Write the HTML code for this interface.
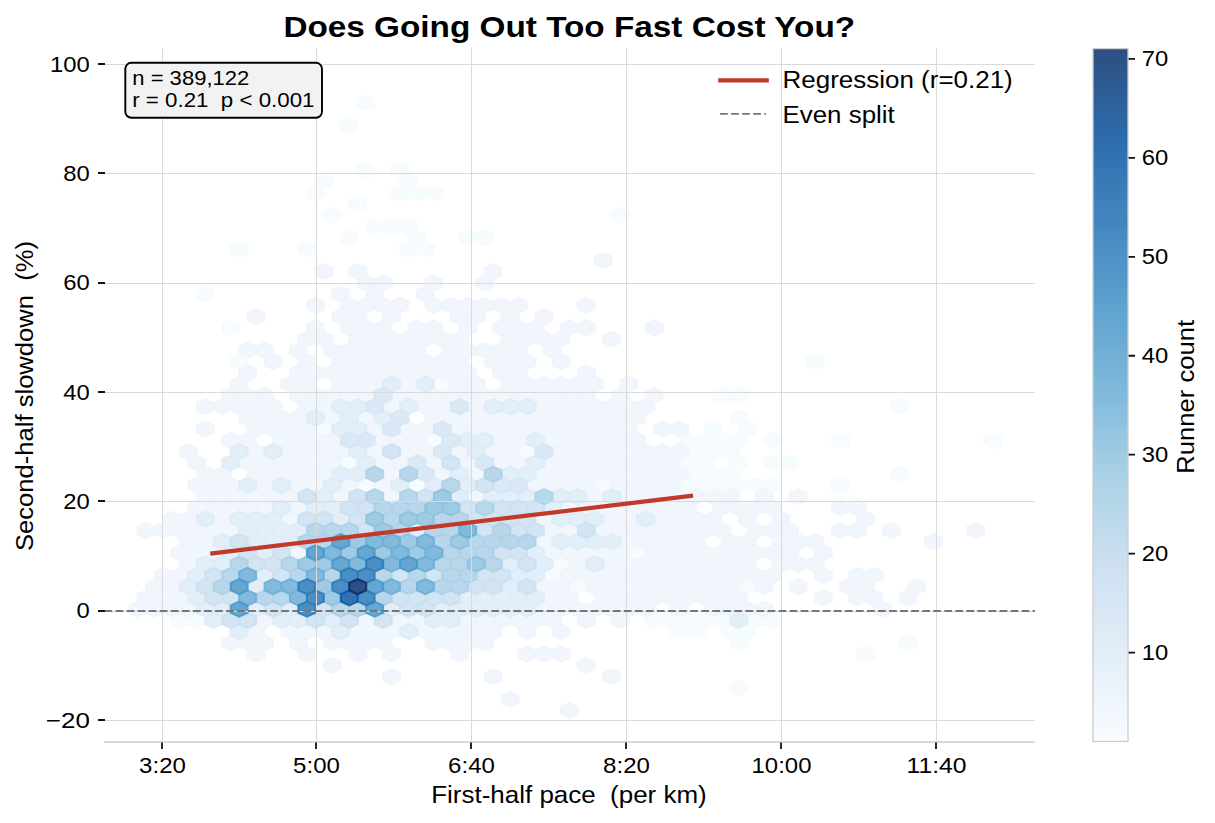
<!DOCTYPE html><html><head><meta charset="utf-8"><style>html,body{margin:0;padding:0;background:#fff;width:1215px;height:823px;overflow:hidden}svg{display:block}</style></head><body><svg width="1215" height="823" viewBox="0 0 1215 823" font-family="Liberation Sans, sans-serif"><rect width="1215" height="823" fill="#fff"/><g fill-opacity="0.85" stroke-opacity="0.85" stroke-width="2.0"><path d="M247.6,357.9L247.6,365.4L239.2,369.1L230.7,365.4L230.7,357.9L239.2,354.1ZM332.3,425.4L332.3,432.9L323.8,436.6L315.4,432.9L315.4,425.4L323.8,421.6ZM247.6,245.4L247.6,252.9L239.2,256.6L230.7,252.9L230.7,245.4L239.2,241.6ZM315.4,245.4L315.4,252.9L306.9,256.6L298.4,252.9L298.4,245.4L306.9,241.6ZM213.8,290.4L213.8,297.9L205.3,301.6L196.8,297.9L196.8,290.4L205.3,286.6ZM239.2,324.1L239.2,331.6L230.7,335.4L222.2,331.6L222.2,324.1L230.7,320.4ZM332.3,177.9L332.3,185.4L323.8,189.1L315.4,185.4L315.4,177.9L323.8,174.1ZM323.8,189.1L323.8,196.6L315.4,200.4L306.9,196.6L306.9,189.1L315.4,185.4ZM340.8,211.6L340.8,219.1L332.3,222.9L323.8,219.1L323.8,211.6L332.3,207.9ZM188.3,616.6L188.3,624.1L179.9,627.9L171.4,624.1L171.4,616.6L179.9,612.9ZM205.3,616.6L205.3,624.1L196.8,627.9L188.3,624.1L188.3,616.6L196.8,612.9ZM450.8,380.4L450.8,387.9L442.4,391.6L433.9,387.9L433.9,380.4L442.4,376.6ZM442.4,436.6L442.4,444.1L433.9,447.9L425.4,444.1L425.4,436.6L433.9,432.9ZM535.5,447.9L535.5,455.4L527.0,459.1L518.6,455.4L518.6,447.9L527.0,444.1ZM357.7,459.1L357.7,466.6L349.2,470.4L340.8,466.6L340.8,459.1L349.2,455.4ZM374.6,481.6L374.6,489.1L366.2,492.9L357.7,489.1L357.7,481.6L366.2,477.9ZM425.4,481.6L425.4,489.1L417.0,492.9L408.5,489.1L408.5,481.6L417.0,477.9ZM383.1,222.9L383.1,230.4L374.6,234.1L366.2,230.4L366.2,222.9L374.6,219.1ZM400.0,222.9L400.0,230.4L391.6,234.1L383.1,230.4L383.1,222.9L391.6,219.1ZM417.0,222.9L417.0,230.4L408.5,234.1L400.0,230.4L400.0,222.9L408.5,219.1ZM357.7,234.1L357.7,241.6L349.2,245.4L340.8,241.6L340.8,234.1L349.2,230.4ZM425.4,234.1L425.4,241.6L417.0,245.4L408.5,241.6L408.5,234.1L417.0,230.4ZM476.2,234.1L476.2,241.6L467.8,245.4L459.3,241.6L459.3,234.1L467.8,230.4ZM493.2,234.1L493.2,241.6L484.7,245.4L476.2,241.6L476.2,234.1L484.7,230.4ZM417.0,245.4L417.0,252.9L408.5,256.6L400.0,252.9L400.0,245.4L408.5,241.6ZM433.9,245.4L433.9,252.9L425.4,256.6L417.0,252.9L417.0,245.4L425.4,241.6ZM374.6,99.1L374.6,106.6L366.2,110.4L357.7,106.6L357.7,99.1L366.2,95.4ZM357.7,121.6L357.7,129.1L349.2,132.9L340.8,129.1L340.8,121.6L349.2,117.9ZM374.6,166.6L374.6,174.1L366.2,177.9L357.7,174.1L357.7,166.6L366.2,162.9ZM408.5,166.6L408.5,174.1L400.0,177.9L391.6,174.1L391.6,166.6L400.0,162.9ZM417.0,177.9L417.0,185.4L408.5,189.1L400.0,185.4L400.0,177.9L408.5,174.1ZM408.5,189.1L408.5,196.6L400.0,200.4L391.6,196.6L391.6,189.1L400.0,185.4ZM425.4,189.1L425.4,196.6L417.0,200.4L408.5,196.6L408.5,189.1L417.0,185.4ZM442.4,189.1L442.4,196.6L433.9,200.4L425.4,196.6L425.4,189.1L433.9,185.4ZM366.2,200.4L366.2,207.9L357.7,211.6L349.2,207.9L349.2,200.4L357.7,196.6ZM730.3,391.6L730.3,399.1L721.8,402.9L713.3,399.1L713.3,391.6L721.8,387.9ZM747.2,391.6L747.2,399.1L738.7,402.9L730.3,399.1L730.3,391.6L738.7,387.9ZM747.2,414.1L747.2,421.6L738.7,425.4L730.3,421.6L730.3,414.1L738.7,410.4ZM721.8,425.4L721.8,432.9L713.3,436.6L704.9,432.9L704.9,425.4L713.3,421.6ZM696.4,436.6L696.4,444.1L687.9,447.9L679.5,444.1L679.5,436.6L687.9,432.9ZM713.3,436.6L713.3,444.1L704.9,447.9L696.4,444.1L696.4,436.6L704.9,432.9ZM730.3,436.6L730.3,444.1L721.8,447.9L713.3,444.1L713.3,436.6L721.8,432.9ZM747.2,436.6L747.2,444.1L738.7,447.9L730.3,444.1L730.3,436.6L738.7,432.9ZM704.9,447.9L704.9,455.4L696.4,459.1L687.9,455.4L687.9,447.9L696.4,444.1ZM721.8,447.9L721.8,455.4L713.3,459.1L704.9,455.4L704.9,447.9L713.3,444.1ZM738.7,447.9L738.7,455.4L730.3,459.1L721.8,455.4L721.8,447.9L730.3,444.1ZM696.4,459.1L696.4,466.6L687.9,470.4L679.5,466.6L679.5,459.1L687.9,455.4ZM713.3,459.1L713.3,466.6L704.9,470.4L696.4,466.6L696.4,459.1L704.9,455.4ZM747.2,459.1L747.2,466.6L738.7,470.4L730.3,466.6L730.3,459.1L738.7,455.4ZM704.9,470.4L704.9,477.9L696.4,481.6L687.9,477.9L687.9,470.4L696.4,466.6ZM721.8,470.4L721.8,477.9L713.3,481.6L704.9,477.9L704.9,470.4L713.3,466.6ZM738.7,470.4L738.7,477.9L730.3,481.6L721.8,477.9L721.8,470.4L730.3,466.6ZM611.7,481.6L611.7,489.1L603.3,492.9L594.8,489.1L594.8,481.6L603.3,477.9ZM696.4,481.6L696.4,489.1L687.9,492.9L679.5,489.1L679.5,481.6L687.9,477.9ZM713.3,481.6L713.3,489.1L704.9,492.9L696.4,489.1L696.4,481.6L704.9,477.9ZM730.3,481.6L730.3,489.1L721.8,492.9L713.3,489.1L713.3,481.6L721.8,477.9ZM747.2,481.6L747.2,489.1L738.7,492.9L730.3,489.1L730.3,481.6L738.7,477.9ZM628.7,211.6L628.7,219.1L620.2,222.9L611.7,219.1L611.7,211.6L620.2,207.9ZM645.6,549.1L645.6,556.6L637.1,560.4L628.7,556.6L628.7,549.1L637.1,545.4ZM569.4,560.4L569.4,567.9L560.9,571.6L552.5,567.9L552.5,560.4L560.9,556.6ZM560.9,571.6L560.9,579.1L552.5,582.9L544.0,579.1L544.0,571.6L552.5,567.9ZM586.3,582.9L586.3,590.4L577.9,594.1L569.4,590.4L569.4,582.9L577.9,579.1ZM662.5,616.6L662.5,624.1L654.1,627.9L645.6,624.1L645.6,616.6L654.1,612.9ZM679.5,616.6L679.5,624.1L671.0,627.9L662.5,624.1L662.5,616.6L671.0,612.9ZM696.4,616.6L696.4,624.1L687.9,627.9L679.5,624.1L679.5,616.6L687.9,612.9ZM713.3,616.6L713.3,624.1L704.9,627.9L696.4,624.1L696.4,616.6L704.9,612.9ZM730.3,616.6L730.3,624.1L721.8,627.9L713.3,624.1L713.3,616.6L721.8,612.9ZM687.9,627.9L687.9,635.4L679.5,639.1L671.0,635.4L671.0,627.9L679.5,624.1ZM704.9,627.9L704.9,635.4L696.4,639.1L687.9,635.4L687.9,627.9L696.4,624.1ZM738.7,627.9L738.7,635.4L730.3,639.1L721.8,635.4L721.8,627.9L730.3,624.1ZM747.2,639.1L747.2,646.6L738.7,650.4L730.3,646.6L730.3,639.1L738.7,635.4ZM747.2,684.1L747.2,691.6L738.7,695.4L730.3,691.6L730.3,684.1L738.7,680.4ZM823.4,357.9L823.4,365.4L814.9,369.1L806.5,365.4L806.5,357.9L814.9,354.1ZM908.1,402.9L908.1,410.4L899.6,414.1L891.2,410.4L891.2,402.9L899.6,399.1ZM755.7,425.4L755.7,432.9L747.2,436.6L738.7,432.9L738.7,425.4L747.2,421.6ZM781.1,436.6L781.1,444.1L772.6,447.9L764.1,444.1L764.1,436.6L772.6,432.9ZM848.8,436.6L848.8,444.1L840.3,447.9L831.9,444.1L831.9,436.6L840.3,432.9ZM781.1,459.1L781.1,466.6L772.6,470.4L764.1,466.6L764.1,459.1L772.6,455.4ZM798.0,459.1L798.0,466.6L789.5,470.4L781.1,466.6L781.1,459.1L789.5,455.4ZM908.1,470.4L908.1,477.9L899.6,481.6L891.2,477.9L891.2,470.4L899.6,466.6ZM764.1,481.6L764.1,489.1L755.7,492.9L747.2,489.1L747.2,481.6L755.7,477.9ZM781.1,481.6L781.1,489.1L772.6,492.9L764.1,489.1L764.1,481.6L772.6,477.9ZM848.8,481.6L848.8,489.1L840.3,492.9L831.9,489.1L831.9,481.6L840.3,477.9ZM764.1,616.6L764.1,624.1L755.7,627.9L747.2,624.1L747.2,616.6L755.7,612.9ZM781.1,616.6L781.1,624.1L772.6,627.9L764.1,624.1L764.1,616.6L772.6,612.9ZM755.7,627.9L755.7,635.4L747.2,639.1L738.7,635.4L738.7,627.9L747.2,624.1ZM916.6,639.1L916.6,646.6L908.1,650.4L899.6,646.6L899.6,639.1L908.1,635.4ZM874.2,650.4L874.2,657.9L865.8,661.6L857.3,657.9L857.3,650.4L865.8,646.6ZM1001.2,436.6L1001.2,444.1L992.8,447.9L984.3,444.1L984.3,436.6L992.8,432.9ZM755.7,582.9L755.7,590.4L747.2,594.1L738.7,590.4L738.7,582.9L747.2,579.1Z" fill="#f5fafe" stroke="#f5fafe"/><path d="M281.5,357.9L281.5,365.4L273.0,369.1L264.6,365.4L264.6,357.9L273.0,354.1ZM315.4,357.9L315.4,365.4L306.9,369.1L298.4,365.4L298.4,357.9L306.9,354.1ZM256.1,369.1L256.1,376.6L247.6,380.4L239.2,376.6L239.2,369.1L247.6,365.4ZM306.9,369.1L306.9,376.6L298.4,380.4L290.0,376.6L290.0,369.1L298.4,365.4ZM323.8,369.1L323.8,376.6L315.4,380.4L306.9,376.6L306.9,369.1L315.4,365.4ZM340.8,369.1L340.8,376.6L332.3,380.4L323.8,376.6L323.8,369.1L332.3,365.4ZM247.6,380.4L247.6,387.9L239.2,391.6L230.7,387.9L230.7,380.4L239.2,376.6ZM298.4,380.4L298.4,387.9L290.0,391.6L281.5,387.9L281.5,380.4L290.0,376.6ZM315.4,380.4L315.4,387.9L306.9,391.6L298.4,387.9L298.4,380.4L306.9,376.6ZM239.2,391.6L239.2,399.1L230.7,402.9L222.2,399.1L222.2,391.6L230.7,387.9ZM256.1,391.6L256.1,399.1L247.6,402.9L239.2,399.1L239.2,391.6L247.6,387.9ZM273.0,391.6L273.0,399.1L264.6,402.9L256.1,399.1L256.1,391.6L264.6,387.9ZM306.9,391.6L306.9,399.1L298.4,402.9L290.0,399.1L290.0,391.6L298.4,387.9ZM323.8,391.6L323.8,399.1L315.4,402.9L306.9,399.1L306.9,391.6L315.4,387.9ZM340.8,391.6L340.8,399.1L332.3,402.9L323.8,399.1L323.8,391.6L332.3,387.9ZM213.8,402.9L213.8,410.4L205.3,414.1L196.8,410.4L196.8,402.9L205.3,399.1ZM230.7,402.9L230.7,410.4L222.2,414.1L213.8,410.4L213.8,402.9L222.2,399.1ZM247.6,402.9L247.6,410.4L239.2,414.1L230.7,410.4L230.7,402.9L239.2,399.1ZM264.6,402.9L264.6,410.4L256.1,414.1L247.6,410.4L247.6,402.9L256.1,399.1ZM281.5,402.9L281.5,410.4L273.0,414.1L264.6,410.4L264.6,402.9L273.0,399.1ZM315.4,402.9L315.4,410.4L306.9,414.1L298.4,410.4L298.4,402.9L306.9,399.1ZM332.3,402.9L332.3,410.4L323.8,414.1L315.4,410.4L315.4,402.9L323.8,399.1ZM256.1,414.1L256.1,421.6L247.6,425.4L239.2,421.6L239.2,414.1L247.6,410.4ZM273.0,414.1L273.0,421.6L264.6,425.4L256.1,421.6L256.1,414.1L264.6,410.4ZM290.0,414.1L290.0,421.6L281.5,425.4L273.0,421.6L273.0,414.1L281.5,410.4ZM306.9,414.1L306.9,421.6L298.4,425.4L290.0,421.6L290.0,414.1L298.4,410.4ZM340.8,414.1L340.8,421.6L332.3,425.4L323.8,421.6L323.8,414.1L332.3,410.4ZM213.8,425.4L213.8,432.9L205.3,436.6L196.8,432.9L196.8,425.4L205.3,421.6ZM264.6,425.4L264.6,432.9L256.1,436.6L247.6,432.9L247.6,425.4L256.1,421.6ZM281.5,425.4L281.5,432.9L273.0,436.6L264.6,432.9L264.6,425.4L273.0,421.6ZM298.4,425.4L298.4,432.9L290.0,436.6L281.5,432.9L281.5,425.4L290.0,421.6ZM315.4,425.4L315.4,432.9L306.9,436.6L298.4,432.9L298.4,425.4L306.9,421.6ZM239.2,436.6L239.2,444.1L230.7,447.9L222.2,444.1L222.2,436.6L230.7,432.9ZM256.1,436.6L256.1,444.1L247.6,447.9L239.2,444.1L239.2,436.6L247.6,432.9ZM290.0,436.6L290.0,444.1L281.5,447.9L273.0,444.1L273.0,436.6L281.5,432.9ZM306.9,436.6L306.9,444.1L298.4,447.9L290.0,444.1L290.0,436.6L298.4,432.9ZM323.8,436.6L323.8,444.1L315.4,447.9L306.9,444.1L306.9,436.6L315.4,432.9ZM340.8,436.6L340.8,444.1L332.3,447.9L323.8,444.1L323.8,436.6L332.3,432.9ZM196.8,447.9L196.8,455.4L188.3,459.1L179.9,455.4L179.9,447.9L188.3,444.1ZM264.6,447.9L264.6,455.4L256.1,459.1L247.6,455.4L247.6,447.9L256.1,444.1ZM298.4,447.9L298.4,455.4L290.0,459.1L281.5,455.4L281.5,447.9L290.0,444.1ZM315.4,447.9L315.4,455.4L306.9,459.1L298.4,455.4L298.4,447.9L306.9,444.1ZM332.3,447.9L332.3,455.4L323.8,459.1L315.4,455.4L315.4,447.9L323.8,444.1ZM205.3,459.1L205.3,466.6L196.8,470.4L188.3,466.6L188.3,459.1L196.8,455.4ZM256.1,459.1L256.1,466.6L247.6,470.4L239.2,466.6L239.2,459.1L247.6,455.4ZM273.0,459.1L273.0,466.6L264.6,470.4L256.1,466.6L256.1,459.1L264.6,455.4ZM290.0,459.1L290.0,466.6L281.5,470.4L273.0,466.6L273.0,459.1L281.5,455.4ZM306.9,459.1L306.9,466.6L298.4,470.4L290.0,466.6L290.0,459.1L298.4,455.4ZM323.8,459.1L323.8,466.6L315.4,470.4L306.9,466.6L306.9,459.1L315.4,455.4ZM340.8,459.1L340.8,466.6L332.3,470.4L323.8,466.6L323.8,459.1L332.3,455.4ZM213.8,470.4L213.8,477.9L205.3,481.6L196.8,477.9L196.8,470.4L205.3,466.6ZM230.7,470.4L230.7,477.9L222.2,481.6L213.8,477.9L213.8,470.4L222.2,466.6ZM264.6,470.4L264.6,477.9L256.1,481.6L247.6,477.9L247.6,470.4L256.1,466.6ZM281.5,470.4L281.5,477.9L273.0,481.6L264.6,477.9L264.6,470.4L273.0,466.6ZM298.4,470.4L298.4,477.9L290.0,481.6L281.5,477.9L281.5,470.4L290.0,466.6ZM315.4,470.4L315.4,477.9L306.9,481.6L298.4,477.9L298.4,470.4L306.9,466.6ZM332.3,470.4L332.3,477.9L323.8,481.6L315.4,477.9L315.4,470.4L323.8,466.6ZM205.3,481.6L205.3,489.1L196.8,492.9L188.3,489.1L188.3,481.6L196.8,477.9ZM222.2,481.6L222.2,489.1L213.8,492.9L205.3,489.1L205.3,481.6L213.8,477.9ZM239.2,481.6L239.2,489.1L230.7,492.9L222.2,489.1L222.2,481.6L230.7,477.9ZM273.0,481.6L273.0,489.1L264.6,492.9L256.1,489.1L256.1,481.6L264.6,477.9ZM306.9,481.6L306.9,489.1L298.4,492.9L290.0,489.1L290.0,481.6L298.4,477.9ZM323.8,481.6L323.8,489.1L315.4,492.9L306.9,489.1L306.9,481.6L315.4,477.9ZM332.3,267.9L332.3,275.4L323.8,279.1L315.4,275.4L315.4,267.9L323.8,264.1ZM323.8,301.6L323.8,309.1L315.4,312.9L306.9,309.1L306.9,301.6L315.4,297.9ZM264.6,312.9L264.6,320.4L256.1,324.1L247.6,320.4L247.6,312.9L256.1,309.1ZM323.8,324.1L323.8,331.6L315.4,335.4L306.9,331.6L306.9,324.1L315.4,320.4ZM315.4,335.4L315.4,342.9L306.9,346.6L298.4,342.9L298.4,335.4L306.9,331.6ZM332.3,335.4L332.3,342.9L323.8,346.6L315.4,342.9L315.4,335.4L323.8,331.6ZM256.1,346.6L256.1,354.1L247.6,357.9L239.2,354.1L239.2,346.6L247.6,342.9ZM273.0,346.6L273.0,354.1L264.6,357.9L256.1,354.1L256.1,346.6L264.6,342.9ZM306.9,346.6L306.9,354.1L298.4,357.9L290.0,354.1L290.0,346.6L298.4,342.9ZM340.8,346.6L340.8,354.1L332.3,357.9L323.8,354.1L323.8,346.6L332.3,342.9ZM213.8,492.9L213.8,500.4L205.3,504.1L196.8,500.4L196.8,492.9L205.3,489.1ZM230.7,492.9L230.7,500.4L222.2,504.1L213.8,500.4L213.8,492.9L222.2,489.1ZM247.6,492.9L247.6,500.4L239.2,504.1L230.7,500.4L230.7,492.9L239.2,489.1ZM264.6,492.9L264.6,500.4L256.1,504.1L247.6,500.4L247.6,492.9L256.1,489.1ZM281.5,492.9L281.5,500.4L273.0,504.1L264.6,500.4L264.6,492.9L273.0,489.1ZM298.4,492.9L298.4,500.4L290.0,504.1L281.5,500.4L281.5,492.9L290.0,489.1ZM205.3,504.1L205.3,511.6L196.8,515.4L188.3,511.6L188.3,504.1L196.8,500.4ZM222.2,504.1L222.2,511.6L213.8,515.4L205.3,511.6L205.3,504.1L213.8,500.4ZM239.2,504.1L239.2,511.6L230.7,515.4L222.2,511.6L222.2,504.1L230.7,500.4ZM256.1,504.1L256.1,511.6L247.6,515.4L239.2,511.6L239.2,504.1L247.6,500.4ZM273.0,504.1L273.0,511.6L264.6,515.4L256.1,511.6L256.1,504.1L264.6,500.4ZM306.9,504.1L306.9,511.6L298.4,515.4L290.0,511.6L290.0,504.1L298.4,500.4ZM179.9,515.4L179.9,522.9L171.4,526.6L162.9,522.9L162.9,515.4L171.4,511.6ZM196.8,515.4L196.8,522.9L188.3,526.6L179.9,522.9L179.9,515.4L188.3,511.6ZM230.7,515.4L230.7,522.9L222.2,526.6L213.8,522.9L213.8,515.4L222.2,511.6ZM298.4,515.4L298.4,522.9L290.0,526.6L281.5,522.9L281.5,515.4L290.0,511.6ZM154.5,526.6L154.5,534.1L146.0,537.9L137.5,534.1L137.5,526.6L146.0,522.9ZM171.4,526.6L171.4,534.1L162.9,537.9L154.5,534.1L154.5,526.6L162.9,522.9ZM188.3,526.6L188.3,534.1L179.9,537.9L171.4,534.1L171.4,526.6L179.9,522.9ZM205.3,526.6L205.3,534.1L196.8,537.9L188.3,534.1L188.3,526.6L196.8,522.9ZM222.2,526.6L222.2,534.1L213.8,537.9L205.3,534.1L205.3,526.6L213.8,522.9ZM239.2,526.6L239.2,534.1L230.7,537.9L222.2,534.1L222.2,526.6L230.7,522.9ZM196.8,537.9L196.8,545.4L188.3,549.1L179.9,545.4L179.9,537.9L188.3,534.1ZM213.8,537.9L213.8,545.4L205.3,549.1L196.8,545.4L196.8,537.9L205.3,534.1ZM188.3,549.1L188.3,556.6L179.9,560.4L171.4,556.6L171.4,549.1L179.9,545.4ZM205.3,549.1L205.3,556.6L196.8,560.4L188.3,556.6L188.3,549.1L196.8,545.4ZM222.2,549.1L222.2,556.6L213.8,560.4L205.3,556.6L205.3,549.1L213.8,545.4ZM306.9,549.1L306.9,556.6L298.4,560.4L290.0,556.6L290.0,549.1L298.4,545.4ZM196.8,560.4L196.8,567.9L188.3,571.6L179.9,567.9L179.9,560.4L188.3,556.6ZM171.4,571.6L171.4,579.1L162.9,582.9L154.5,579.1L154.5,571.6L162.9,567.9ZM188.3,571.6L188.3,579.1L179.9,582.9L171.4,579.1L171.4,571.6L179.9,567.9ZM162.9,582.9L162.9,590.4L154.5,594.1L146.0,590.4L146.0,582.9L154.5,579.1ZM179.9,582.9L179.9,590.4L171.4,594.1L162.9,590.4L162.9,582.9L171.4,579.1ZM154.5,594.1L154.5,601.6L146.0,605.4L137.5,601.6L137.5,594.1L146.0,590.4ZM171.4,594.1L171.4,601.6L162.9,605.4L154.5,601.6L154.5,594.1L162.9,590.4ZM188.3,594.1L188.3,601.6L179.9,605.4L171.4,601.6L171.4,594.1L179.9,590.4ZM162.9,605.4L162.9,612.9L154.5,616.6L146.0,612.9L146.0,605.4L154.5,601.6ZM179.9,605.4L179.9,612.9L171.4,616.6L162.9,612.9L162.9,605.4L171.4,601.6ZM196.8,605.4L196.8,612.9L188.3,616.6L179.9,612.9L179.9,605.4L188.3,601.6ZM273.0,616.6L273.0,624.1L264.6,627.9L256.1,624.1L256.1,616.6L264.6,612.9ZM264.6,627.9L264.6,635.4L256.1,639.1L247.6,635.4L247.6,627.9L256.1,624.1ZM298.4,627.9L298.4,635.4L290.0,639.1L281.5,635.4L281.5,627.9L290.0,624.1ZM315.4,627.9L315.4,635.4L306.9,639.1L298.4,635.4L298.4,627.9L306.9,624.1ZM332.3,627.9L332.3,635.4L323.8,639.1L315.4,635.4L315.4,627.9L323.8,624.1ZM239.2,639.1L239.2,646.6L230.7,650.4L222.2,646.6L222.2,639.1L230.7,635.4ZM256.1,639.1L256.1,646.6L247.6,650.4L239.2,646.6L239.2,639.1L247.6,635.4ZM273.0,639.1L273.0,646.6L264.6,650.4L256.1,646.6L256.1,639.1L264.6,635.4ZM306.9,639.1L306.9,646.6L298.4,650.4L290.0,646.6L290.0,639.1L298.4,635.4ZM340.8,639.1L340.8,646.6L332.3,650.4L323.8,646.6L323.8,639.1L332.3,635.4ZM264.6,650.4L264.6,657.9L256.1,661.6L247.6,657.9L247.6,650.4L256.1,646.6ZM315.4,650.4L315.4,657.9L306.9,661.6L298.4,657.9L298.4,650.4L306.9,646.6ZM340.8,661.6L340.8,669.1L332.3,672.9L323.8,669.1L323.8,661.6L332.3,657.9ZM349.2,357.9L349.2,365.4L340.8,369.1L332.3,365.4L332.3,357.9L340.8,354.1ZM366.2,357.9L366.2,365.4L357.7,369.1L349.2,365.4L349.2,357.9L357.7,354.1ZM383.1,357.9L383.1,365.4L374.6,369.1L366.2,365.4L366.2,357.9L374.6,354.1ZM400.0,357.9L400.0,365.4L391.6,369.1L383.1,365.4L383.1,357.9L391.6,354.1ZM417.0,357.9L417.0,365.4L408.5,369.1L400.0,365.4L400.0,357.9L408.5,354.1ZM433.9,357.9L433.9,365.4L425.4,369.1L417.0,365.4L417.0,357.9L425.4,354.1ZM450.8,357.9L450.8,365.4L442.4,369.1L433.9,365.4L433.9,357.9L442.4,354.1ZM467.8,357.9L467.8,365.4L459.3,369.1L450.8,365.4L450.8,357.9L459.3,354.1ZM501.6,357.9L501.6,365.4L493.2,369.1L484.7,365.4L484.7,357.9L493.2,354.1ZM518.6,357.9L518.6,365.4L510.1,369.1L501.6,365.4L501.6,357.9L510.1,354.1ZM535.5,357.9L535.5,365.4L527.0,369.1L518.6,365.4L518.6,357.9L527.0,354.1ZM357.7,369.1L357.7,376.6L349.2,380.4L340.8,376.6L340.8,369.1L349.2,365.4ZM374.6,369.1L374.6,376.6L366.2,380.4L357.7,376.6L357.7,369.1L366.2,365.4ZM391.6,369.1L391.6,376.6L383.1,380.4L374.6,376.6L374.6,369.1L383.1,365.4ZM408.5,369.1L408.5,376.6L400.0,380.4L391.6,376.6L391.6,369.1L400.0,365.4ZM425.4,369.1L425.4,376.6L417.0,380.4L408.5,376.6L408.5,369.1L417.0,365.4ZM442.4,369.1L442.4,376.6L433.9,380.4L425.4,376.6L425.4,369.1L433.9,365.4ZM459.3,369.1L459.3,376.6L450.8,380.4L442.4,376.6L442.4,369.1L450.8,365.4ZM476.2,369.1L476.2,376.6L467.8,380.4L459.3,376.6L459.3,369.1L467.8,365.4ZM510.1,369.1L510.1,376.6L501.6,380.4L493.2,376.6L493.2,369.1L501.6,365.4ZM527.0,369.1L527.0,376.6L518.6,380.4L510.1,376.6L510.1,369.1L518.6,365.4ZM349.2,380.4L349.2,387.9L340.8,391.6L332.3,387.9L332.3,380.4L340.8,376.6ZM366.2,380.4L366.2,387.9L357.7,391.6L349.2,387.9L349.2,380.4L357.7,376.6ZM383.1,380.4L383.1,387.9L374.6,391.6L366.2,387.9L366.2,380.4L374.6,376.6ZM417.0,380.4L417.0,387.9L408.5,391.6L400.0,387.9L400.0,380.4L408.5,376.6ZM467.8,380.4L467.8,387.9L459.3,391.6L450.8,387.9L450.8,380.4L459.3,376.6ZM484.7,380.4L484.7,387.9L476.2,391.6L467.8,387.9L467.8,380.4L476.2,376.6ZM518.6,380.4L518.6,387.9L510.1,391.6L501.6,387.9L501.6,380.4L510.1,376.6ZM535.5,380.4L535.5,387.9L527.0,391.6L518.6,387.9L518.6,380.4L527.0,376.6ZM357.7,391.6L357.7,399.1L349.2,402.9L340.8,399.1L340.8,391.6L349.2,387.9ZM374.6,391.6L374.6,399.1L366.2,402.9L357.7,399.1L357.7,391.6L366.2,387.9ZM408.5,391.6L408.5,399.1L400.0,402.9L391.6,399.1L391.6,391.6L400.0,387.9ZM425.4,391.6L425.4,399.1L417.0,402.9L408.5,399.1L408.5,391.6L417.0,387.9ZM442.4,391.6L442.4,399.1L433.9,402.9L425.4,399.1L425.4,391.6L433.9,387.9ZM459.3,391.6L459.3,399.1L450.8,402.9L442.4,399.1L442.4,391.6L450.8,387.9ZM476.2,391.6L476.2,399.1L467.8,402.9L459.3,399.1L459.3,391.6L467.8,387.9ZM493.2,391.6L493.2,399.1L484.7,402.9L476.2,399.1L476.2,391.6L484.7,387.9ZM510.1,391.6L510.1,399.1L501.6,402.9L493.2,399.1L493.2,391.6L501.6,387.9ZM527.0,391.6L527.0,399.1L518.6,402.9L510.1,399.1L510.1,391.6L518.6,387.9ZM544.0,391.6L544.0,399.1L535.5,402.9L527.0,399.1L527.0,391.6L535.5,387.9ZM400.0,402.9L400.0,410.4L391.6,414.1L383.1,410.4L383.1,402.9L391.6,399.1ZM433.9,402.9L433.9,410.4L425.4,414.1L417.0,410.4L417.0,402.9L425.4,399.1ZM450.8,402.9L450.8,410.4L442.4,414.1L433.9,410.4L433.9,402.9L442.4,399.1ZM484.7,402.9L484.7,410.4L476.2,414.1L467.8,410.4L467.8,402.9L476.2,399.1ZM374.6,414.1L374.6,421.6L366.2,425.4L357.7,421.6L357.7,414.1L366.2,410.4ZM442.4,414.1L442.4,421.6L433.9,425.4L425.4,421.6L425.4,414.1L433.9,410.4ZM459.3,414.1L459.3,421.6L450.8,425.4L442.4,421.6L442.4,414.1L450.8,410.4ZM476.2,414.1L476.2,421.6L467.8,425.4L459.3,421.6L459.3,414.1L467.8,410.4ZM493.2,414.1L493.2,421.6L484.7,425.4L476.2,421.6L476.2,414.1L484.7,410.4ZM510.1,414.1L510.1,421.6L501.6,425.4L493.2,421.6L493.2,414.1L501.6,410.4ZM527.0,414.1L527.0,421.6L518.6,425.4L510.1,421.6L510.1,414.1L518.6,410.4ZM544.0,414.1L544.0,421.6L535.5,425.4L527.0,421.6L527.0,414.1L535.5,410.4ZM383.1,425.4L383.1,432.9L374.6,436.6L366.2,432.9L366.2,425.4L374.6,421.6ZM417.0,425.4L417.0,432.9L408.5,436.6L400.0,432.9L400.0,425.4L408.5,421.6ZM433.9,425.4L433.9,432.9L425.4,436.6L417.0,432.9L417.0,425.4L425.4,421.6ZM467.8,425.4L467.8,432.9L459.3,436.6L450.8,432.9L450.8,425.4L459.3,421.6ZM484.7,425.4L484.7,432.9L476.2,436.6L467.8,432.9L467.8,425.4L476.2,421.6ZM501.6,425.4L501.6,432.9L493.2,436.6L484.7,432.9L484.7,425.4L493.2,421.6ZM518.6,425.4L518.6,432.9L510.1,436.6L501.6,432.9L501.6,425.4L510.1,421.6ZM535.5,425.4L535.5,432.9L527.0,436.6L518.6,432.9L518.6,425.4L527.0,421.6ZM391.6,436.6L391.6,444.1L383.1,447.9L374.6,444.1L374.6,436.6L383.1,432.9ZM408.5,436.6L408.5,444.1L400.0,447.9L391.6,444.1L391.6,436.6L400.0,432.9ZM425.4,436.6L425.4,444.1L417.0,447.9L408.5,444.1L408.5,436.6L417.0,432.9ZM510.1,436.6L510.1,444.1L501.6,447.9L493.2,444.1L493.2,436.6L501.6,432.9ZM527.0,436.6L527.0,444.1L518.6,447.9L510.1,444.1L510.1,436.6L518.6,432.9ZM349.2,447.9L349.2,455.4L340.8,459.1L332.3,455.4L332.3,447.9L340.8,444.1ZM383.1,447.9L383.1,455.4L374.6,459.1L366.2,455.4L366.2,447.9L374.6,444.1ZM417.0,447.9L417.0,455.4L408.5,459.1L400.0,455.4L400.0,447.9L408.5,444.1ZM433.9,447.9L433.9,455.4L425.4,459.1L417.0,455.4L417.0,447.9L425.4,444.1ZM467.8,447.9L467.8,455.4L459.3,459.1L450.8,455.4L450.8,447.9L459.3,444.1ZM501.6,447.9L501.6,455.4L493.2,459.1L484.7,455.4L484.7,447.9L493.2,444.1ZM518.6,447.9L518.6,455.4L510.1,459.1L501.6,455.4L501.6,447.9L510.1,444.1ZM391.6,459.1L391.6,466.6L383.1,470.4L374.6,466.6L374.6,459.1L383.1,455.4ZM408.5,459.1L408.5,466.6L400.0,470.4L391.6,466.6L391.6,459.1L400.0,455.4ZM442.4,459.1L442.4,466.6L433.9,470.4L425.4,466.6L425.4,459.1L433.9,455.4ZM476.2,459.1L476.2,466.6L467.8,470.4L459.3,466.6L459.3,459.1L467.8,455.4ZM510.1,459.1L510.1,466.6L501.6,470.4L493.2,466.6L493.2,459.1L501.6,455.4ZM527.0,459.1L527.0,466.6L518.6,470.4L510.1,466.6L510.1,459.1L518.6,455.4ZM400.0,470.4L400.0,477.9L391.6,481.6L383.1,477.9L383.1,470.4L391.6,466.6ZM450.8,470.4L450.8,477.9L442.4,481.6L433.9,477.9L433.9,470.4L442.4,466.6ZM484.7,470.4L484.7,477.9L476.2,481.6L467.8,477.9L467.8,470.4L476.2,466.6ZM357.7,481.6L357.7,489.1L349.2,492.9L340.8,489.1L340.8,481.6L349.2,477.9ZM391.6,481.6L391.6,489.1L383.1,492.9L374.6,489.1L374.6,481.6L383.1,477.9ZM544.0,481.6L544.0,489.1L535.5,492.9L527.0,489.1L527.0,481.6L535.5,477.9ZM366.2,267.9L366.2,275.4L357.7,279.1L349.2,275.4L349.2,267.9L357.7,264.1ZM501.6,267.9L501.6,275.4L493.2,279.1L484.7,275.4L484.7,267.9L493.2,264.1ZM374.6,279.1L374.6,286.6L366.2,290.4L357.7,286.6L357.7,279.1L366.2,275.4ZM391.6,279.1L391.6,286.6L383.1,290.4L374.6,286.6L374.6,279.1L383.1,275.4ZM442.4,279.1L442.4,286.6L433.9,290.4L425.4,286.6L425.4,279.1L433.9,275.4ZM493.2,279.1L493.2,286.6L484.7,290.4L476.2,286.6L476.2,279.1L484.7,275.4ZM349.2,290.4L349.2,297.9L340.8,301.6L332.3,297.9L332.3,290.4L340.8,286.6ZM383.1,290.4L383.1,297.9L374.6,301.6L366.2,297.9L366.2,290.4L374.6,286.6ZM433.9,290.4L433.9,297.9L425.4,301.6L417.0,297.9L417.0,290.4L425.4,286.6ZM357.7,301.6L357.7,309.1L349.2,312.9L340.8,309.1L340.8,301.6L349.2,297.9ZM374.6,301.6L374.6,309.1L366.2,312.9L357.7,309.1L357.7,301.6L366.2,297.9ZM391.6,301.6L391.6,309.1L383.1,312.9L374.6,309.1L374.6,301.6L383.1,297.9ZM408.5,301.6L408.5,309.1L400.0,312.9L391.6,309.1L391.6,301.6L400.0,297.9ZM442.4,301.6L442.4,309.1L433.9,312.9L425.4,309.1L425.4,301.6L433.9,297.9ZM459.3,301.6L459.3,309.1L450.8,312.9L442.4,309.1L442.4,301.6L450.8,297.9ZM476.2,301.6L476.2,309.1L467.8,312.9L459.3,309.1L459.3,301.6L467.8,297.9ZM493.2,301.6L493.2,309.1L484.7,312.9L476.2,309.1L476.2,301.6L484.7,297.9ZM510.1,301.6L510.1,309.1L501.6,312.9L493.2,309.1L493.2,301.6L501.6,297.9ZM527.0,301.6L527.0,309.1L518.6,312.9L510.1,309.1L510.1,301.6L518.6,297.9ZM349.2,312.9L349.2,320.4L340.8,324.1L332.3,320.4L332.3,312.9L340.8,309.1ZM366.2,312.9L366.2,320.4L357.7,324.1L349.2,320.4L349.2,312.9L357.7,309.1ZM400.0,312.9L400.0,320.4L391.6,324.1L383.1,320.4L383.1,312.9L391.6,309.1ZM467.8,312.9L467.8,320.4L459.3,324.1L450.8,320.4L450.8,312.9L459.3,309.1ZM484.7,312.9L484.7,320.4L476.2,324.1L467.8,320.4L467.8,312.9L476.2,309.1ZM518.6,312.9L518.6,320.4L510.1,324.1L501.6,320.4L501.6,312.9L510.1,309.1ZM357.7,324.1L357.7,331.6L349.2,335.4L340.8,331.6L340.8,324.1L349.2,320.4ZM374.6,324.1L374.6,331.6L366.2,335.4L357.7,331.6L357.7,324.1L366.2,320.4ZM391.6,324.1L391.6,331.6L383.1,335.4L374.6,331.6L374.6,324.1L383.1,320.4ZM425.4,324.1L425.4,331.6L417.0,335.4L408.5,331.6L408.5,324.1L417.0,320.4ZM442.4,324.1L442.4,331.6L433.9,335.4L425.4,331.6L425.4,324.1L433.9,320.4ZM476.2,324.1L476.2,331.6L467.8,335.4L459.3,331.6L459.3,324.1L467.8,320.4ZM510.1,324.1L510.1,331.6L501.6,335.4L493.2,331.6L493.2,324.1L501.6,320.4ZM527.0,324.1L527.0,331.6L518.6,335.4L510.1,331.6L510.1,324.1L518.6,320.4ZM544.0,324.1L544.0,331.6L535.5,335.4L527.0,331.6L527.0,324.1L535.5,320.4ZM366.2,335.4L366.2,342.9L357.7,346.6L349.2,342.9L349.2,335.4L357.7,331.6ZM383.1,335.4L383.1,342.9L374.6,346.6L366.2,342.9L366.2,335.4L374.6,331.6ZM400.0,335.4L400.0,342.9L391.6,346.6L383.1,342.9L383.1,335.4L391.6,331.6ZM417.0,335.4L417.0,342.9L408.5,346.6L400.0,342.9L400.0,335.4L408.5,331.6ZM433.9,335.4L433.9,342.9L425.4,346.6L417.0,342.9L417.0,335.4L425.4,331.6ZM450.8,335.4L450.8,342.9L442.4,346.6L433.9,342.9L433.9,335.4L442.4,331.6ZM518.6,335.4L518.6,342.9L510.1,346.6L501.6,342.9L501.6,335.4L510.1,331.6ZM535.5,335.4L535.5,342.9L527.0,346.6L518.6,342.9L518.6,335.4L527.0,331.6ZM357.7,346.6L357.7,354.1L349.2,357.9L340.8,354.1L340.8,346.6L349.2,342.9ZM374.6,346.6L374.6,354.1L366.2,357.9L357.7,354.1L357.7,346.6L366.2,342.9ZM391.6,346.6L391.6,354.1L383.1,357.9L374.6,354.1L374.6,346.6L383.1,342.9ZM408.5,346.6L408.5,354.1L400.0,357.9L391.6,354.1L391.6,346.6L400.0,342.9ZM425.4,346.6L425.4,354.1L417.0,357.9L408.5,354.1L408.5,346.6L417.0,342.9ZM459.3,346.6L459.3,354.1L450.8,357.9L442.4,354.1L442.4,346.6L450.8,342.9ZM476.2,346.6L476.2,354.1L467.8,357.9L459.3,354.1L459.3,346.6L467.8,342.9ZM493.2,346.6L493.2,354.1L484.7,357.9L476.2,354.1L476.2,346.6L484.7,342.9ZM510.1,346.6L510.1,354.1L501.6,357.9L493.2,354.1L493.2,346.6L501.6,342.9ZM527.0,346.6L527.0,354.1L518.6,357.9L510.1,354.1L510.1,346.6L518.6,342.9ZM349.2,492.9L349.2,500.4L340.8,504.1L332.3,500.4L332.3,492.9L340.8,489.1ZM400.0,492.9L400.0,500.4L391.6,504.1L383.1,500.4L383.1,492.9L391.6,489.1ZM484.7,492.9L484.7,500.4L476.2,504.1L467.8,500.4L467.8,492.9L476.2,489.1ZM374.6,616.6L374.6,624.1L366.2,627.9L357.7,624.1L357.7,616.6L366.2,612.9ZM408.5,616.6L408.5,624.1L400.0,627.9L391.6,624.1L391.6,616.6L400.0,612.9ZM425.4,616.6L425.4,624.1L417.0,627.9L408.5,624.1L408.5,616.6L417.0,612.9ZM476.2,616.6L476.2,624.1L467.8,627.9L459.3,624.1L459.3,616.6L467.8,612.9ZM493.2,616.6L493.2,624.1L484.7,627.9L476.2,624.1L476.2,616.6L484.7,612.9ZM510.1,616.6L510.1,624.1L501.6,627.9L493.2,624.1L493.2,616.6L501.6,612.9ZM527.0,616.6L527.0,624.1L518.6,627.9L510.1,624.1L510.1,616.6L518.6,612.9ZM544.0,616.6L544.0,624.1L535.5,627.9L527.0,624.1L527.0,616.6L535.5,612.9ZM366.2,627.9L366.2,635.4L357.7,639.1L349.2,635.4L349.2,627.9L357.7,624.1ZM383.1,627.9L383.1,635.4L374.6,639.1L366.2,635.4L366.2,627.9L374.6,624.1ZM400.0,627.9L400.0,635.4L391.6,639.1L383.1,635.4L383.1,627.9L391.6,624.1ZM433.9,627.9L433.9,635.4L425.4,639.1L417.0,635.4L417.0,627.9L425.4,624.1ZM450.8,627.9L450.8,635.4L442.4,639.1L433.9,635.4L433.9,627.9L442.4,624.1ZM467.8,627.9L467.8,635.4L459.3,639.1L450.8,635.4L450.8,627.9L459.3,624.1ZM484.7,627.9L484.7,635.4L476.2,639.1L467.8,635.4L467.8,627.9L476.2,624.1ZM501.6,627.9L501.6,635.4L493.2,639.1L484.7,635.4L484.7,627.9L493.2,624.1ZM535.5,627.9L535.5,635.4L527.0,639.1L518.6,635.4L518.6,627.9L527.0,624.1ZM357.7,639.1L357.7,646.6L349.2,650.4L340.8,646.6L340.8,639.1L349.2,635.4ZM374.6,639.1L374.6,646.6L366.2,650.4L357.7,646.6L357.7,639.1L366.2,635.4ZM391.6,639.1L391.6,646.6L383.1,650.4L374.6,646.6L374.6,639.1L383.1,635.4ZM442.4,639.1L442.4,646.6L433.9,650.4L425.4,646.6L425.4,639.1L433.9,635.4ZM459.3,639.1L459.3,646.6L450.8,650.4L442.4,646.6L442.4,639.1L450.8,635.4ZM476.2,639.1L476.2,646.6L467.8,650.4L459.3,646.6L459.3,639.1L467.8,635.4ZM493.2,639.1L493.2,646.6L484.7,650.4L476.2,646.6L476.2,639.1L484.7,635.4ZM366.2,650.4L366.2,657.9L357.7,661.6L349.2,657.9L349.2,650.4L357.7,646.6ZM400.0,650.4L400.0,657.9L391.6,661.6L383.1,657.9L383.1,650.4L391.6,646.6ZM467.8,650.4L467.8,657.9L459.3,661.6L450.8,657.9L450.8,650.4L459.3,646.6ZM535.5,650.4L535.5,657.9L527.0,661.6L518.6,657.9L518.6,650.4L527.0,646.6ZM400.0,672.9L400.0,680.4L391.6,684.1L383.1,680.4L383.1,672.9L391.6,669.1ZM501.6,672.9L501.6,680.4L493.2,684.1L484.7,680.4L484.7,672.9L493.2,669.1ZM518.6,695.4L518.6,702.9L510.1,706.6L501.6,702.9L501.6,695.4L510.1,691.6ZM569.4,357.9L569.4,365.4L560.9,369.1L552.5,365.4L552.5,357.9L560.9,354.1ZM594.8,369.1L594.8,376.6L586.3,380.4L577.9,376.6L577.9,369.1L586.3,365.4ZM552.5,380.4L552.5,387.9L544.0,391.6L535.5,387.9L535.5,380.4L544.0,376.6ZM569.4,380.4L569.4,387.9L560.9,391.6L552.5,387.9L552.5,380.4L560.9,376.6ZM586.3,380.4L586.3,387.9L577.9,391.6L569.4,387.9L569.4,380.4L577.9,376.6ZM603.3,380.4L603.3,387.9L594.8,391.6L586.3,387.9L586.3,380.4L594.8,376.6ZM637.1,380.4L637.1,387.9L628.7,391.6L620.2,387.9L620.2,380.4L628.7,376.6ZM560.9,391.6L560.9,399.1L552.5,402.9L544.0,399.1L544.0,391.6L552.5,387.9ZM577.9,391.6L577.9,399.1L569.4,402.9L560.9,399.1L560.9,391.6L569.4,387.9ZM594.8,391.6L594.8,399.1L586.3,402.9L577.9,399.1L577.9,391.6L586.3,387.9ZM662.5,391.6L662.5,399.1L654.1,402.9L645.6,399.1L645.6,391.6L654.1,387.9ZM552.5,402.9L552.5,410.4L544.0,414.1L535.5,410.4L535.5,402.9L544.0,399.1ZM569.4,402.9L569.4,410.4L560.9,414.1L552.5,410.4L552.5,402.9L560.9,399.1ZM586.3,402.9L586.3,410.4L577.9,414.1L569.4,410.4L569.4,402.9L577.9,399.1ZM603.3,402.9L603.3,410.4L594.8,414.1L586.3,410.4L586.3,402.9L594.8,399.1ZM620.2,402.9L620.2,410.4L611.7,414.1L603.3,410.4L603.3,402.9L611.7,399.1ZM637.1,402.9L637.1,410.4L628.7,414.1L620.2,410.4L620.2,402.9L628.7,399.1ZM654.1,402.9L654.1,410.4L645.6,414.1L637.1,410.4L637.1,402.9L645.6,399.1ZM560.9,414.1L560.9,421.6L552.5,425.4L544.0,421.6L544.0,414.1L552.5,410.4ZM577.9,414.1L577.9,421.6L569.4,425.4L560.9,421.6L560.9,414.1L569.4,410.4ZM594.8,414.1L594.8,421.6L586.3,425.4L577.9,421.6L577.9,414.1L586.3,410.4ZM611.7,414.1L611.7,421.6L603.3,425.4L594.8,421.6L594.8,414.1L603.3,410.4ZM628.7,414.1L628.7,421.6L620.2,425.4L611.7,421.6L611.7,414.1L620.2,410.4ZM645.6,414.1L645.6,421.6L637.1,425.4L628.7,421.6L628.7,414.1L637.1,410.4ZM552.5,425.4L552.5,432.9L544.0,436.6L535.5,432.9L535.5,425.4L544.0,421.6ZM569.4,425.4L569.4,432.9L560.9,436.6L552.5,432.9L552.5,425.4L560.9,421.6ZM586.3,425.4L586.3,432.9L577.9,436.6L569.4,432.9L569.4,425.4L577.9,421.6ZM603.3,425.4L603.3,432.9L594.8,436.6L586.3,432.9L586.3,425.4L594.8,421.6ZM620.2,425.4L620.2,432.9L611.7,436.6L603.3,432.9L603.3,425.4L611.7,421.6ZM637.1,425.4L637.1,432.9L628.7,436.6L620.2,432.9L620.2,425.4L628.7,421.6ZM671.0,425.4L671.0,432.9L662.5,436.6L654.1,432.9L654.1,425.4L662.5,421.6ZM687.9,425.4L687.9,432.9L679.5,436.6L671.0,432.9L671.0,425.4L679.5,421.6ZM560.9,436.6L560.9,444.1L552.5,447.9L544.0,444.1L544.0,436.6L552.5,432.9ZM577.9,436.6L577.9,444.1L569.4,447.9L560.9,444.1L560.9,436.6L569.4,432.9ZM594.8,436.6L594.8,444.1L586.3,447.9L577.9,444.1L577.9,436.6L586.3,432.9ZM611.7,436.6L611.7,444.1L603.3,447.9L594.8,444.1L594.8,436.6L603.3,432.9ZM628.7,436.6L628.7,444.1L620.2,447.9L611.7,444.1L611.7,436.6L620.2,432.9ZM645.6,436.6L645.6,444.1L637.1,447.9L628.7,444.1L628.7,436.6L637.1,432.9ZM569.4,447.9L569.4,455.4L560.9,459.1L552.5,455.4L552.5,447.9L560.9,444.1ZM586.3,447.9L586.3,455.4L577.9,459.1L569.4,455.4L569.4,447.9L577.9,444.1ZM603.3,447.9L603.3,455.4L594.8,459.1L586.3,455.4L586.3,447.9L594.8,444.1ZM620.2,447.9L620.2,455.4L611.7,459.1L603.3,455.4L603.3,447.9L611.7,444.1ZM637.1,447.9L637.1,455.4L628.7,459.1L620.2,455.4L620.2,447.9L628.7,444.1ZM654.1,447.9L654.1,455.4L645.6,459.1L637.1,455.4L637.1,447.9L645.6,444.1ZM671.0,447.9L671.0,455.4L662.5,459.1L654.1,455.4L654.1,447.9L662.5,444.1ZM687.9,447.9L687.9,455.4L679.5,459.1L671.0,455.4L671.0,447.9L679.5,444.1ZM560.9,459.1L560.9,466.6L552.5,470.4L544.0,466.6L544.0,459.1L552.5,455.4ZM577.9,459.1L577.9,466.6L569.4,470.4L560.9,466.6L560.9,459.1L569.4,455.4ZM594.8,459.1L594.8,466.6L586.3,470.4L577.9,466.6L577.9,459.1L586.3,455.4ZM611.7,459.1L611.7,466.6L603.3,470.4L594.8,466.6L594.8,459.1L603.3,455.4ZM628.7,459.1L628.7,466.6L620.2,470.4L611.7,466.6L611.7,459.1L620.2,455.4ZM645.6,459.1L645.6,466.6L637.1,470.4L628.7,466.6L628.7,459.1L637.1,455.4ZM662.5,459.1L662.5,466.6L654.1,470.4L645.6,466.6L645.6,459.1L654.1,455.4ZM679.5,459.1L679.5,466.6L671.0,470.4L662.5,466.6L662.5,459.1L671.0,455.4ZM552.5,470.4L552.5,477.9L544.0,481.6L535.5,477.9L535.5,470.4L544.0,466.6ZM569.4,470.4L569.4,477.9L560.9,481.6L552.5,477.9L552.5,470.4L560.9,466.6ZM586.3,470.4L586.3,477.9L577.9,481.6L569.4,477.9L569.4,470.4L577.9,466.6ZM603.3,470.4L603.3,477.9L594.8,481.6L586.3,477.9L586.3,470.4L594.8,466.6ZM620.2,470.4L620.2,477.9L611.7,481.6L603.3,477.9L603.3,470.4L611.7,466.6ZM637.1,470.4L637.1,477.9L628.7,481.6L620.2,477.9L620.2,470.4L628.7,466.6ZM654.1,470.4L654.1,477.9L645.6,481.6L637.1,477.9L637.1,470.4L645.6,466.6ZM671.0,470.4L671.0,477.9L662.5,481.6L654.1,477.9L654.1,470.4L662.5,466.6ZM687.9,470.4L687.9,477.9L679.5,481.6L671.0,477.9L671.0,470.4L679.5,466.6ZM560.9,481.6L560.9,489.1L552.5,492.9L544.0,489.1L544.0,481.6L552.5,477.9ZM577.9,481.6L577.9,489.1L569.4,492.9L560.9,489.1L560.9,481.6L569.4,477.9ZM594.8,481.6L594.8,489.1L586.3,492.9L577.9,489.1L577.9,481.6L586.3,477.9ZM628.7,481.6L628.7,489.1L620.2,492.9L611.7,489.1L611.7,481.6L620.2,477.9ZM645.6,481.6L645.6,489.1L637.1,492.9L628.7,489.1L628.7,481.6L637.1,477.9ZM662.5,481.6L662.5,489.1L654.1,492.9L645.6,489.1L645.6,481.6L654.1,477.9ZM679.5,481.6L679.5,489.1L671.0,492.9L662.5,489.1L662.5,481.6L671.0,477.9ZM611.7,256.6L611.7,264.1L603.3,267.9L594.8,264.1L594.8,256.6L603.3,252.9ZM594.8,301.6L594.8,309.1L586.3,312.9L577.9,309.1L577.9,301.6L586.3,297.9ZM552.5,312.9L552.5,320.4L544.0,324.1L535.5,320.4L535.5,312.9L544.0,309.1ZM577.9,324.1L577.9,331.6L569.4,335.4L560.9,331.6L560.9,324.1L569.4,320.4ZM594.8,324.1L594.8,331.6L586.3,335.4L577.9,331.6L577.9,324.1L586.3,320.4ZM662.5,324.1L662.5,331.6L654.1,335.4L645.6,331.6L645.6,324.1L654.1,320.4ZM552.5,335.4L552.5,342.9L544.0,346.6L535.5,342.9L535.5,335.4L544.0,331.6ZM569.4,335.4L569.4,342.9L560.9,346.6L552.5,342.9L552.5,335.4L560.9,331.6ZM620.2,335.4L620.2,342.9L611.7,346.6L603.3,342.9L603.3,335.4L611.7,331.6ZM560.9,346.6L560.9,354.1L552.5,357.9L544.0,354.1L544.0,346.6L552.5,342.9ZM603.3,492.9L603.3,500.4L594.8,504.1L586.3,500.4L586.3,492.9L594.8,489.1ZM637.1,492.9L637.1,500.4L628.7,504.1L620.2,500.4L620.2,492.9L628.7,489.1ZM654.1,492.9L654.1,500.4L645.6,504.1L637.1,500.4L637.1,492.9L645.6,489.1ZM671.0,492.9L671.0,500.4L662.5,504.1L654.1,500.4L654.1,492.9L662.5,489.1ZM687.9,492.9L687.9,500.4L679.5,504.1L671.0,500.4L671.0,492.9L679.5,489.1ZM704.9,492.9L704.9,500.4L696.4,504.1L687.9,500.4L687.9,492.9L696.4,489.1ZM721.8,492.9L721.8,500.4L713.3,504.1L704.9,500.4L704.9,492.9L713.3,489.1ZM738.7,492.9L738.7,500.4L730.3,504.1L721.8,500.4L721.8,492.9L730.3,489.1ZM577.9,504.1L577.9,511.6L569.4,515.4L560.9,511.6L560.9,504.1L569.4,500.4ZM594.8,504.1L594.8,511.6L586.3,515.4L577.9,511.6L577.9,504.1L586.3,500.4ZM611.7,504.1L611.7,511.6L603.3,515.4L594.8,511.6L594.8,504.1L603.3,500.4ZM628.7,504.1L628.7,511.6L620.2,515.4L611.7,511.6L611.7,504.1L620.2,500.4ZM645.6,504.1L645.6,511.6L637.1,515.4L628.7,511.6L628.7,504.1L637.1,500.4ZM662.5,504.1L662.5,511.6L654.1,515.4L645.6,511.6L645.6,504.1L654.1,500.4ZM679.5,504.1L679.5,511.6L671.0,515.4L662.5,511.6L662.5,504.1L671.0,500.4ZM696.4,504.1L696.4,511.6L687.9,515.4L679.5,511.6L679.5,504.1L687.9,500.4ZM730.3,504.1L730.3,511.6L721.8,515.4L713.3,511.6L713.3,504.1L721.8,500.4ZM747.2,504.1L747.2,511.6L738.7,515.4L730.3,511.6L730.3,504.1L738.7,500.4ZM552.5,515.4L552.5,522.9L544.0,526.6L535.5,522.9L535.5,515.4L544.0,511.6ZM620.2,515.4L620.2,522.9L611.7,526.6L603.3,522.9L603.3,515.4L611.7,511.6ZM637.1,515.4L637.1,522.9L628.7,526.6L620.2,522.9L620.2,515.4L628.7,511.6ZM671.0,515.4L671.0,522.9L662.5,526.6L654.1,522.9L654.1,515.4L662.5,511.6ZM687.9,515.4L687.9,522.9L679.5,526.6L671.0,522.9L671.0,515.4L679.5,511.6ZM704.9,515.4L704.9,522.9L696.4,526.6L687.9,522.9L687.9,515.4L696.4,511.6ZM721.8,515.4L721.8,522.9L713.3,526.6L704.9,522.9L704.9,515.4L713.3,511.6ZM560.9,526.6L560.9,534.1L552.5,537.9L544.0,534.1L544.0,526.6L552.5,522.9ZM577.9,526.6L577.9,534.1L569.4,537.9L560.9,534.1L560.9,526.6L569.4,522.9ZM611.7,526.6L611.7,534.1L603.3,537.9L594.8,534.1L594.8,526.6L603.3,522.9ZM628.7,526.6L628.7,534.1L620.2,537.9L611.7,534.1L611.7,526.6L620.2,522.9ZM645.6,526.6L645.6,534.1L637.1,537.9L628.7,534.1L628.7,526.6L637.1,522.9ZM662.5,526.6L662.5,534.1L654.1,537.9L645.6,534.1L645.6,526.6L654.1,522.9ZM679.5,526.6L679.5,534.1L671.0,537.9L662.5,534.1L662.5,526.6L671.0,522.9ZM696.4,526.6L696.4,534.1L687.9,537.9L679.5,534.1L679.5,526.6L687.9,522.9ZM713.3,526.6L713.3,534.1L704.9,537.9L696.4,534.1L696.4,526.6L704.9,522.9ZM730.3,526.6L730.3,534.1L721.8,537.9L713.3,534.1L713.3,526.6L721.8,522.9ZM552.5,537.9L552.5,545.4L544.0,549.1L535.5,545.4L535.5,537.9L544.0,534.1ZM637.1,537.9L637.1,545.4L628.7,549.1L620.2,545.4L620.2,537.9L628.7,534.1ZM654.1,537.9L654.1,545.4L645.6,549.1L637.1,545.4L637.1,537.9L645.6,534.1ZM671.0,537.9L671.0,545.4L662.5,549.1L654.1,545.4L654.1,537.9L662.5,534.1ZM687.9,537.9L687.9,545.4L679.5,549.1L671.0,545.4L671.0,537.9L679.5,534.1ZM560.9,549.1L560.9,556.6L552.5,560.4L544.0,556.6L544.0,549.1L552.5,545.4ZM577.9,549.1L577.9,556.6L569.4,560.4L560.9,556.6L560.9,549.1L569.4,545.4ZM594.8,549.1L594.8,556.6L586.3,560.4L577.9,556.6L577.9,549.1L586.3,545.4ZM611.7,549.1L611.7,556.6L603.3,560.4L594.8,556.6L594.8,549.1L603.3,545.4ZM628.7,549.1L628.7,556.6L620.2,560.4L611.7,556.6L611.7,549.1L620.2,545.4ZM662.5,549.1L662.5,556.6L654.1,560.4L645.6,556.6L645.6,549.1L654.1,545.4ZM679.5,549.1L679.5,556.6L671.0,560.4L662.5,556.6L662.5,549.1L671.0,545.4ZM696.4,549.1L696.4,556.6L687.9,560.4L679.5,556.6L679.5,549.1L687.9,545.4ZM713.3,549.1L713.3,556.6L704.9,560.4L696.4,556.6L696.4,549.1L704.9,545.4ZM730.3,549.1L730.3,556.6L721.8,560.4L713.3,556.6L713.3,549.1L721.8,545.4ZM747.2,549.1L747.2,556.6L738.7,560.4L730.3,556.6L730.3,549.1L738.7,545.4ZM586.3,560.4L586.3,567.9L577.9,571.6L569.4,567.9L569.4,560.4L577.9,556.6ZM620.2,560.4L620.2,567.9L611.7,571.6L603.3,567.9L603.3,560.4L611.7,556.6ZM637.1,560.4L637.1,567.9L628.7,571.6L620.2,567.9L620.2,560.4L628.7,556.6ZM654.1,560.4L654.1,567.9L645.6,571.6L637.1,567.9L637.1,560.4L645.6,556.6ZM671.0,560.4L671.0,567.9L662.5,571.6L654.1,567.9L654.1,560.4L662.5,556.6ZM687.9,560.4L687.9,567.9L679.5,571.6L671.0,567.9L671.0,560.4L679.5,556.6ZM704.9,560.4L704.9,567.9L696.4,571.6L687.9,567.9L687.9,560.4L696.4,556.6ZM721.8,560.4L721.8,567.9L713.3,571.6L704.9,567.9L704.9,560.4L713.3,556.6ZM738.7,560.4L738.7,567.9L730.3,571.6L721.8,567.9L721.8,560.4L730.3,556.6ZM577.9,571.6L577.9,579.1L569.4,582.9L560.9,579.1L560.9,571.6L569.4,567.9ZM594.8,571.6L594.8,579.1L586.3,582.9L577.9,579.1L577.9,571.6L586.3,567.9ZM611.7,571.6L611.7,579.1L603.3,582.9L594.8,579.1L594.8,571.6L603.3,567.9ZM628.7,571.6L628.7,579.1L620.2,582.9L611.7,579.1L611.7,571.6L620.2,567.9ZM645.6,571.6L645.6,579.1L637.1,582.9L628.7,579.1L628.7,571.6L637.1,567.9ZM662.5,571.6L662.5,579.1L654.1,582.9L645.6,579.1L645.6,571.6L654.1,567.9ZM679.5,571.6L679.5,579.1L671.0,582.9L662.5,579.1L662.5,571.6L671.0,567.9ZM696.4,571.6L696.4,579.1L687.9,582.9L679.5,579.1L679.5,571.6L687.9,567.9ZM713.3,571.6L713.3,579.1L704.9,582.9L696.4,579.1L696.4,571.6L704.9,567.9ZM730.3,571.6L730.3,579.1L721.8,582.9L713.3,579.1L713.3,571.6L721.8,567.9ZM747.2,571.6L747.2,579.1L738.7,582.9L730.3,579.1L730.3,571.6L738.7,567.9ZM552.5,582.9L552.5,590.4L544.0,594.1L535.5,590.4L535.5,582.9L544.0,579.1ZM569.4,582.9L569.4,590.4L560.9,594.1L552.5,590.4L552.5,582.9L560.9,579.1ZM603.3,582.9L603.3,590.4L594.8,594.1L586.3,590.4L586.3,582.9L594.8,579.1ZM620.2,582.9L620.2,590.4L611.7,594.1L603.3,590.4L603.3,582.9L611.7,579.1ZM637.1,582.9L637.1,590.4L628.7,594.1L620.2,590.4L620.2,582.9L628.7,579.1ZM654.1,582.9L654.1,590.4L645.6,594.1L637.1,590.4L637.1,582.9L645.6,579.1ZM671.0,582.9L671.0,590.4L662.5,594.1L654.1,590.4L654.1,582.9L662.5,579.1ZM687.9,582.9L687.9,590.4L679.5,594.1L671.0,590.4L671.0,582.9L679.5,579.1ZM704.9,582.9L704.9,590.4L696.4,594.1L687.9,590.4L687.9,582.9L696.4,579.1ZM721.8,582.9L721.8,590.4L713.3,594.1L704.9,590.4L704.9,582.9L713.3,579.1ZM738.7,582.9L738.7,590.4L730.3,594.1L721.8,590.4L721.8,582.9L730.3,579.1ZM560.9,594.1L560.9,601.6L552.5,605.4L544.0,601.6L544.0,594.1L552.5,590.4ZM577.9,594.1L577.9,601.6L569.4,605.4L560.9,601.6L560.9,594.1L569.4,590.4ZM611.7,594.1L611.7,601.6L603.3,605.4L594.8,601.6L594.8,594.1L603.3,590.4ZM628.7,594.1L628.7,601.6L620.2,605.4L611.7,601.6L611.7,594.1L620.2,590.4ZM645.6,594.1L645.6,601.6L637.1,605.4L628.7,601.6L628.7,594.1L637.1,590.4ZM662.5,594.1L662.5,601.6L654.1,605.4L645.6,601.6L645.6,594.1L654.1,590.4ZM679.5,594.1L679.5,601.6L671.0,605.4L662.5,601.6L662.5,594.1L671.0,590.4ZM696.4,594.1L696.4,601.6L687.9,605.4L679.5,601.6L679.5,594.1L687.9,590.4ZM713.3,594.1L713.3,601.6L704.9,605.4L696.4,601.6L696.4,594.1L704.9,590.4ZM730.3,594.1L730.3,601.6L721.8,605.4L713.3,601.6L713.3,594.1L721.8,590.4ZM747.2,594.1L747.2,601.6L738.7,605.4L730.3,601.6L730.3,594.1L738.7,590.4ZM552.5,605.4L552.5,612.9L544.0,616.6L535.5,612.9L535.5,605.4L544.0,601.6ZM569.4,605.4L569.4,612.9L560.9,616.6L552.5,612.9L552.5,605.4L560.9,601.6ZM586.3,605.4L586.3,612.9L577.9,616.6L569.4,612.9L569.4,605.4L577.9,601.6ZM603.3,605.4L603.3,612.9L594.8,616.6L586.3,612.9L586.3,605.4L594.8,601.6ZM620.2,605.4L620.2,612.9L611.7,616.6L603.3,612.9L603.3,605.4L611.7,601.6ZM637.1,605.4L637.1,612.9L628.7,616.6L620.2,612.9L620.2,605.4L628.7,601.6ZM721.8,605.4L721.8,612.9L713.3,616.6L704.9,612.9L704.9,605.4L713.3,601.6ZM738.7,605.4L738.7,612.9L730.3,616.6L721.8,612.9L721.8,605.4L730.3,601.6ZM560.9,616.6L560.9,624.1L552.5,627.9L544.0,624.1L544.0,616.6L552.5,612.9ZM594.8,616.6L594.8,624.1L586.3,627.9L577.9,624.1L577.9,616.6L586.3,612.9ZM628.7,616.6L628.7,624.1L620.2,627.9L611.7,624.1L611.7,616.6L620.2,612.9ZM569.4,627.9L569.4,635.4L560.9,639.1L552.5,635.4L552.5,627.9L560.9,624.1ZM552.5,650.4L552.5,657.9L544.0,661.6L535.5,657.9L535.5,650.4L544.0,646.6ZM569.4,650.4L569.4,657.9L560.9,661.6L552.5,657.9L552.5,650.4L560.9,646.6ZM594.8,661.6L594.8,669.1L586.3,672.9L577.9,669.1L577.9,661.6L586.3,657.9ZM620.2,672.9L620.2,680.4L611.7,684.1L603.3,680.4L603.3,672.9L611.7,669.1ZM577.9,706.6L577.9,714.1L569.4,717.9L560.9,714.1L560.9,706.6L569.4,702.9ZM772.6,492.9L772.6,500.4L764.1,504.1L755.7,500.4L755.7,492.9L764.1,489.1ZM806.5,492.9L806.5,500.4L798.0,504.1L789.5,500.4L789.5,492.9L798.0,489.1ZM764.1,504.1L764.1,511.6L755.7,515.4L747.2,511.6L747.2,504.1L755.7,500.4ZM781.1,504.1L781.1,511.6L772.6,515.4L764.1,511.6L764.1,504.1L772.6,500.4ZM848.8,504.1L848.8,511.6L840.3,515.4L831.9,511.6L831.9,504.1L840.3,500.4ZM865.8,504.1L865.8,511.6L857.3,515.4L848.8,511.6L848.8,504.1L857.3,500.4ZM755.7,515.4L755.7,522.9L747.2,526.6L738.7,522.9L738.7,515.4L747.2,511.6ZM789.5,515.4L789.5,522.9L781.1,526.6L772.6,522.9L772.6,515.4L781.1,511.6ZM874.2,515.4L874.2,522.9L865.8,526.6L857.3,522.9L857.3,515.4L865.8,511.6ZM764.1,526.6L764.1,534.1L755.7,537.9L747.2,534.1L747.2,526.6L755.7,522.9ZM781.1,526.6L781.1,534.1L772.6,537.9L764.1,534.1L764.1,526.6L772.6,522.9ZM798.0,526.6L798.0,534.1L789.5,537.9L781.1,534.1L781.1,526.6L789.5,522.9ZM848.8,526.6L848.8,534.1L840.3,537.9L831.9,534.1L831.9,526.6L840.3,522.9ZM865.8,526.6L865.8,534.1L857.3,537.9L848.8,534.1L848.8,526.6L857.3,522.9ZM899.6,526.6L899.6,534.1L891.2,537.9L882.7,534.1L882.7,526.6L891.2,522.9ZM755.7,537.9L755.7,545.4L747.2,549.1L738.7,545.4L738.7,537.9L747.2,534.1ZM789.5,537.9L789.5,545.4L781.1,549.1L772.6,545.4L772.6,537.9L781.1,534.1ZM806.5,537.9L806.5,545.4L798.0,549.1L789.5,545.4L789.5,537.9L798.0,534.1ZM823.4,537.9L823.4,545.4L814.9,549.1L806.5,545.4L806.5,537.9L814.9,534.1ZM942.0,537.9L942.0,545.4L933.5,549.1L925.0,545.4L925.0,537.9L933.5,534.1ZM764.1,549.1L764.1,556.6L755.7,560.4L747.2,556.6L747.2,549.1L755.7,545.4ZM781.1,549.1L781.1,556.6L772.6,560.4L764.1,556.6L764.1,549.1L772.6,545.4ZM798.0,549.1L798.0,556.6L789.5,560.4L781.1,556.6L781.1,549.1L789.5,545.4ZM831.9,549.1L831.9,556.6L823.4,560.4L814.9,556.6L814.9,549.1L823.4,545.4ZM755.7,560.4L755.7,567.9L747.2,571.6L738.7,567.9L738.7,560.4L747.2,556.6ZM789.5,560.4L789.5,567.9L781.1,571.6L772.6,567.9L772.6,560.4L781.1,556.6ZM806.5,560.4L806.5,567.9L798.0,571.6L789.5,567.9L789.5,560.4L798.0,556.6ZM823.4,560.4L823.4,567.9L814.9,571.6L806.5,567.9L806.5,560.4L814.9,556.6ZM764.1,571.6L764.1,579.1L755.7,582.9L747.2,579.1L747.2,571.6L755.7,567.9ZM781.1,571.6L781.1,579.1L772.6,582.9L764.1,579.1L764.1,571.6L772.6,567.9ZM831.9,571.6L831.9,579.1L823.4,582.9L814.9,579.1L814.9,571.6L823.4,567.9ZM865.8,571.6L865.8,579.1L857.3,582.9L848.8,579.1L848.8,571.6L857.3,567.9ZM882.7,571.6L882.7,579.1L874.2,582.9L865.8,579.1L865.8,571.6L874.2,567.9ZM772.6,582.9L772.6,590.4L764.1,594.1L755.7,590.4L755.7,582.9L764.1,579.1ZM806.5,582.9L806.5,590.4L798.0,594.1L789.5,590.4L789.5,582.9L798.0,579.1ZM857.3,582.9L857.3,590.4L848.8,594.1L840.3,590.4L840.3,582.9L848.8,579.1ZM874.2,582.9L874.2,590.4L865.8,594.1L857.3,590.4L857.3,582.9L865.8,579.1ZM925.0,582.9L925.0,590.4L916.6,594.1L908.1,590.4L908.1,582.9L916.6,579.1ZM831.9,594.1L831.9,601.6L823.4,605.4L814.9,601.6L814.9,594.1L823.4,590.4ZM865.8,594.1L865.8,601.6L857.3,605.4L848.8,601.6L848.8,594.1L857.3,590.4ZM882.7,594.1L882.7,601.6L874.2,605.4L865.8,601.6L865.8,594.1L874.2,590.4ZM916.6,594.1L916.6,601.6L908.1,605.4L899.6,601.6L899.6,594.1L908.1,590.4ZM772.6,605.4L772.6,612.9L764.1,616.6L755.7,612.9L755.7,605.4L764.1,601.6ZM891.2,605.4L891.2,612.9L882.7,616.6L874.2,612.9L874.2,605.4L882.7,601.6ZM984.3,526.6L984.3,534.1L975.8,537.9L967.4,534.1L967.4,526.6L975.8,522.9ZM628.7,391.6L628.7,399.1L620.2,402.9L611.7,399.1L611.7,391.6L620.2,387.9ZM146.0,605.4L146.0,612.9L137.5,616.6L129.1,612.9L129.1,605.4L137.5,601.6ZM704.9,537.9L704.9,545.4L696.4,549.1L687.9,545.4L687.9,537.9L696.4,534.1ZM738.7,537.9L738.7,545.4L730.3,549.1L721.8,545.4L721.8,537.9L730.3,534.1ZM654.1,605.4L654.1,612.9L645.6,616.6L637.1,612.9L637.1,605.4L645.6,601.6ZM687.9,605.4L687.9,612.9L679.5,616.6L671.0,612.9L671.0,605.4L679.5,601.6ZM755.7,605.4L755.7,612.9L747.2,616.6L738.7,612.9L738.7,605.4L747.2,601.6ZM467.8,335.4L467.8,342.9L459.3,346.6L450.8,342.9L450.8,335.4L459.3,331.6Z" fill="#eef5fc" stroke="#eef5fc"/><path d="M323.8,414.1L323.8,421.6L315.4,425.4L306.9,421.6L306.9,414.1L315.4,410.4ZM247.6,447.9L247.6,455.4L239.2,459.1L230.7,455.4L230.7,447.9L239.2,444.1ZM281.5,447.9L281.5,455.4L273.0,459.1L264.6,455.4L264.6,447.9L273.0,444.1ZM239.2,459.1L239.2,466.6L230.7,470.4L222.2,466.6L222.2,459.1L230.7,455.4ZM256.1,481.6L256.1,489.1L247.6,492.9L239.2,489.1L239.2,481.6L247.6,477.9ZM290.0,481.6L290.0,489.1L281.5,492.9L273.0,489.1L273.0,481.6L281.5,477.9ZM340.8,481.6L340.8,489.1L332.3,492.9L323.8,489.1L323.8,481.6L332.3,477.9ZM332.3,492.9L332.3,500.4L323.8,504.1L315.4,500.4L315.4,492.9L323.8,489.1ZM290.0,504.1L290.0,511.6L281.5,515.4L273.0,511.6L273.0,504.1L281.5,500.4ZM323.8,504.1L323.8,511.6L315.4,515.4L306.9,511.6L306.9,504.1L315.4,500.4ZM340.8,504.1L340.8,511.6L332.3,515.4L323.8,511.6L323.8,504.1L332.3,500.4ZM213.8,515.4L213.8,522.9L205.3,526.6L196.8,522.9L196.8,515.4L205.3,511.6ZM247.6,515.4L247.6,522.9L239.2,526.6L230.7,522.9L230.7,515.4L239.2,511.6ZM264.6,515.4L264.6,522.9L256.1,526.6L247.6,522.9L247.6,515.4L256.1,511.6ZM281.5,515.4L281.5,522.9L273.0,526.6L264.6,522.9L264.6,515.4L273.0,511.6ZM256.1,526.6L256.1,534.1L247.6,537.9L239.2,534.1L239.2,526.6L247.6,522.9ZM273.0,526.6L273.0,534.1L264.6,537.9L256.1,534.1L256.1,526.6L264.6,522.9ZM290.0,526.6L290.0,534.1L281.5,537.9L273.0,534.1L273.0,526.6L281.5,522.9ZM306.9,526.6L306.9,534.1L298.4,537.9L290.0,534.1L290.0,526.6L298.4,522.9ZM230.7,537.9L230.7,545.4L222.2,549.1L213.8,545.4L213.8,537.9L222.2,534.1ZM264.6,537.9L264.6,545.4L256.1,549.1L247.6,545.4L247.6,537.9L256.1,534.1ZM281.5,537.9L281.5,545.4L273.0,549.1L264.6,545.4L264.6,537.9L273.0,534.1ZM298.4,537.9L298.4,545.4L290.0,549.1L281.5,545.4L281.5,537.9L290.0,534.1ZM239.2,549.1L239.2,556.6L230.7,560.4L222.2,556.6L222.2,549.1L230.7,545.4ZM273.0,549.1L273.0,556.6L264.6,560.4L256.1,556.6L256.1,549.1L264.6,545.4ZM213.8,560.4L213.8,567.9L205.3,571.6L196.8,567.9L196.8,560.4L205.3,556.6ZM230.7,560.4L230.7,567.9L222.2,571.6L213.8,567.9L213.8,560.4L222.2,556.6ZM205.3,571.6L205.3,579.1L196.8,582.9L188.3,579.1L188.3,571.6L196.8,567.9ZM273.0,571.6L273.0,579.1L264.6,582.9L256.1,579.1L256.1,571.6L264.6,567.9ZM196.8,582.9L196.8,590.4L188.3,594.1L179.9,590.4L179.9,582.9L188.3,579.1ZM264.6,582.9L264.6,590.4L256.1,594.1L247.6,590.4L247.6,582.9L256.1,579.1ZM205.3,594.1L205.3,601.6L196.8,605.4L188.3,601.6L188.3,594.1L196.8,590.4ZM213.8,605.4L213.8,612.9L205.3,616.6L196.8,612.9L196.8,605.4L205.3,601.6ZM230.7,605.4L230.7,612.9L222.2,616.6L213.8,612.9L213.8,605.4L222.2,601.6ZM264.6,605.4L264.6,612.9L256.1,616.6L247.6,612.9L247.6,605.4L256.1,601.6ZM298.4,605.4L298.4,612.9L290.0,616.6L281.5,612.9L281.5,605.4L290.0,601.6ZM222.2,616.6L222.2,624.1L213.8,627.9L205.3,624.1L205.3,616.6L213.8,612.9ZM290.0,616.6L290.0,624.1L281.5,627.9L273.0,624.1L273.0,616.6L281.5,612.9ZM306.9,616.6L306.9,624.1L298.4,627.9L290.0,624.1L290.0,616.6L298.4,612.9ZM340.8,616.6L340.8,624.1L332.3,627.9L323.8,624.1L323.8,616.6L332.3,612.9ZM247.6,627.9L247.6,635.4L239.2,639.1L230.7,635.4L230.7,627.9L239.2,624.1ZM400.0,380.4L400.0,387.9L391.6,391.6L383.1,387.9L383.1,380.4L391.6,376.6ZM433.9,380.4L433.9,387.9L425.4,391.6L417.0,387.9L417.0,380.4L425.4,376.6ZM349.2,402.9L349.2,410.4L340.8,414.1L332.3,410.4L332.3,402.9L340.8,399.1ZM366.2,402.9L366.2,410.4L357.7,414.1L349.2,410.4L349.2,402.9L357.7,399.1ZM417.0,402.9L417.0,410.4L408.5,414.1L400.0,410.4L400.0,402.9L408.5,399.1ZM501.6,402.9L501.6,410.4L493.2,414.1L484.7,410.4L484.7,402.9L493.2,399.1ZM518.6,402.9L518.6,410.4L510.1,414.1L501.6,410.4L501.6,402.9L510.1,399.1ZM535.5,402.9L535.5,410.4L527.0,414.1L518.6,410.4L518.6,402.9L527.0,399.1ZM357.7,414.1L357.7,421.6L349.2,425.4L340.8,421.6L340.8,414.1L349.2,410.4ZM391.6,414.1L391.6,421.6L383.1,425.4L374.6,421.6L374.6,414.1L383.1,410.4ZM349.2,425.4L349.2,432.9L340.8,436.6L332.3,432.9L332.3,425.4L340.8,421.6ZM366.2,425.4L366.2,432.9L357.7,436.6L349.2,432.9L349.2,425.4L357.7,421.6ZM476.2,436.6L476.2,444.1L467.8,447.9L459.3,444.1L459.3,436.6L467.8,432.9ZM493.2,436.6L493.2,444.1L484.7,447.9L476.2,444.1L476.2,436.6L484.7,432.9ZM544.0,436.6L544.0,444.1L535.5,447.9L527.0,444.1L527.0,436.6L535.5,432.9ZM366.2,447.9L366.2,455.4L357.7,459.1L349.2,455.4L349.2,447.9L357.7,444.1ZM484.7,447.9L484.7,455.4L476.2,459.1L467.8,455.4L467.8,447.9L476.2,444.1ZM374.6,459.1L374.6,466.6L366.2,470.4L357.7,466.6L357.7,459.1L366.2,455.4ZM544.0,459.1L544.0,466.6L535.5,470.4L527.0,466.6L527.0,459.1L535.5,455.4ZM349.2,470.4L349.2,477.9L340.8,481.6L332.3,477.9L332.3,470.4L340.8,466.6ZM366.2,470.4L366.2,477.9L357.7,481.6L349.2,477.9L349.2,470.4L357.7,466.6ZM467.8,470.4L467.8,477.9L459.3,481.6L450.8,477.9L450.8,470.4L459.3,466.6ZM518.6,470.4L518.6,477.9L510.1,481.6L501.6,477.9L501.6,470.4L510.1,466.6ZM535.5,470.4L535.5,477.9L527.0,481.6L518.6,477.9L518.6,470.4L527.0,466.6ZM408.5,481.6L408.5,489.1L400.0,492.9L391.6,489.1L391.6,481.6L400.0,477.9ZM442.4,481.6L442.4,489.1L433.9,492.9L425.4,489.1L425.4,481.6L433.9,477.9ZM476.2,481.6L476.2,489.1L467.8,492.9L459.3,489.1L459.3,481.6L467.8,477.9ZM467.8,492.9L467.8,500.4L459.3,504.1L450.8,500.4L450.8,492.9L459.3,489.1ZM501.6,492.9L501.6,500.4L493.2,504.1L484.7,500.4L484.7,492.9L493.2,489.1ZM518.6,492.9L518.6,500.4L510.1,504.1L501.6,500.4L501.6,492.9L510.1,489.1ZM535.5,492.9L535.5,500.4L527.0,504.1L518.6,500.4L518.6,492.9L527.0,489.1ZM349.2,515.4L349.2,522.9L340.8,526.6L332.3,522.9L332.3,515.4L340.8,511.6ZM425.4,526.6L425.4,534.1L417.0,537.9L408.5,534.1L408.5,526.6L417.0,522.9ZM544.0,549.1L544.0,556.6L535.5,560.4L527.0,556.6L527.0,549.1L535.5,545.4ZM518.6,560.4L518.6,567.9L510.1,571.6L501.6,567.9L501.6,560.4L510.1,556.6ZM527.0,571.6L527.0,579.1L518.6,582.9L510.1,579.1L510.1,571.6L518.6,567.9ZM544.0,571.6L544.0,579.1L535.5,582.9L527.0,579.1L527.0,571.6L535.5,567.9ZM518.6,582.9L518.6,590.4L510.1,594.1L501.6,590.4L501.6,582.9L510.1,579.1ZM476.2,594.1L476.2,601.6L467.8,605.4L459.3,601.6L459.3,594.1L467.8,590.4ZM493.2,594.1L493.2,601.6L484.7,605.4L476.2,601.6L476.2,594.1L484.7,590.4ZM510.1,594.1L510.1,601.6L501.6,605.4L493.2,601.6L493.2,594.1L501.6,590.4ZM527.0,594.1L527.0,601.6L518.6,605.4L510.1,601.6L510.1,594.1L518.6,590.4ZM544.0,594.1L544.0,601.6L535.5,605.4L527.0,601.6L527.0,594.1L535.5,590.4ZM400.0,605.4L400.0,612.9L391.6,616.6L383.1,612.9L383.1,605.4L391.6,601.6ZM450.8,605.4L450.8,612.9L442.4,616.6L433.9,612.9L433.9,605.4L442.4,601.6ZM467.8,605.4L467.8,612.9L459.3,616.6L450.8,612.9L450.8,605.4L459.3,601.6ZM484.7,605.4L484.7,612.9L476.2,616.6L467.8,612.9L467.8,605.4L476.2,601.6ZM501.6,605.4L501.6,612.9L493.2,616.6L484.7,612.9L484.7,605.4L493.2,601.6ZM518.6,605.4L518.6,612.9L510.1,616.6L501.6,612.9L501.6,605.4L510.1,601.6ZM535.5,605.4L535.5,612.9L527.0,616.6L518.6,612.9L518.6,605.4L527.0,601.6ZM442.4,616.6L442.4,624.1L433.9,627.9L425.4,624.1L425.4,616.6L433.9,612.9ZM459.3,616.6L459.3,624.1L450.8,627.9L442.4,624.1L442.4,616.6L450.8,612.9ZM349.2,627.9L349.2,635.4L340.8,639.1L332.3,635.4L332.3,627.9L340.8,624.1ZM417.0,627.9L417.0,635.4L408.5,639.1L400.0,635.4L400.0,627.9L408.5,624.1ZM569.4,492.9L569.4,500.4L560.9,504.1L552.5,500.4L552.5,492.9L560.9,489.1ZM586.3,492.9L586.3,500.4L577.9,504.1L569.4,500.4L569.4,492.9L577.9,489.1ZM620.2,492.9L620.2,500.4L611.7,504.1L603.3,500.4L603.3,492.9L611.7,489.1ZM560.9,504.1L560.9,511.6L552.5,515.4L544.0,511.6L544.0,504.1L552.5,500.4ZM569.4,515.4L569.4,522.9L560.9,526.6L552.5,522.9L552.5,515.4L560.9,511.6ZM586.3,515.4L586.3,522.9L577.9,526.6L569.4,522.9L569.4,515.4L577.9,511.6ZM603.3,515.4L603.3,522.9L594.8,526.6L586.3,522.9L586.3,515.4L594.8,511.6ZM654.1,515.4L654.1,522.9L645.6,526.6L637.1,522.9L637.1,515.4L645.6,511.6ZM569.4,537.9L569.4,545.4L560.9,549.1L552.5,545.4L552.5,537.9L560.9,534.1ZM586.3,537.9L586.3,545.4L577.9,549.1L569.4,545.4L569.4,537.9L577.9,534.1ZM603.3,537.9L603.3,545.4L594.8,549.1L586.3,545.4L586.3,537.9L594.8,534.1ZM620.2,537.9L620.2,545.4L611.7,549.1L603.3,545.4L603.3,537.9L611.7,534.1ZM552.5,560.4L552.5,567.9L544.0,571.6L535.5,567.9L535.5,560.4L544.0,556.6ZM603.3,560.4L603.3,567.9L594.8,571.6L586.3,567.9L586.3,560.4L594.8,556.6ZM747.2,616.6L747.2,624.1L738.7,627.9L730.3,624.1L730.3,616.6L738.7,612.9Z" fill="#ddebf7" stroke="#ddebf7"/><path d="M391.6,391.6L391.6,399.1L383.1,402.9L374.6,399.1L374.6,391.6L383.1,387.9ZM383.1,402.9L383.1,410.4L374.6,414.1L366.2,410.4L366.2,402.9L374.6,399.1ZM467.8,402.9L467.8,410.4L459.3,414.1L450.8,410.4L450.8,402.9L459.3,399.1ZM408.5,414.1L408.5,421.6L400.0,425.4L391.6,421.6L391.6,414.1L400.0,410.4ZM400.0,425.4L400.0,432.9L391.6,436.6L383.1,432.9L383.1,425.4L391.6,421.6ZM450.8,425.4L450.8,432.9L442.4,436.6L433.9,432.9L433.9,425.4L442.4,421.6ZM357.7,436.6L357.7,444.1L349.2,447.9L340.8,444.1L340.8,436.6L349.2,432.9ZM374.6,436.6L374.6,444.1L366.2,447.9L357.7,444.1L357.7,436.6L366.2,432.9ZM459.3,436.6L459.3,444.1L450.8,447.9L442.4,444.1L442.4,436.6L450.8,432.9ZM450.8,447.9L450.8,455.4L442.4,459.1L433.9,455.4L433.9,447.9L442.4,444.1ZM425.4,459.1L425.4,466.6L417.0,470.4L408.5,466.6L408.5,459.1L417.0,455.4ZM493.2,459.1L493.2,466.6L484.7,470.4L476.2,466.6L476.2,459.1L484.7,455.4ZM433.9,470.4L433.9,477.9L425.4,481.6L417.0,477.9L417.0,470.4L425.4,466.6ZM510.1,481.6L510.1,489.1L501.6,492.9L493.2,489.1L493.2,481.6L501.6,477.9ZM527.0,481.6L527.0,489.1L518.6,492.9L510.1,489.1L510.1,481.6L518.6,477.9ZM552.5,447.9L552.5,455.4L544.0,459.1L535.5,455.4L535.5,447.9L544.0,444.1Z" fill="#d5e5f4" stroke="#d5e5f4"/><path d="M315.4,492.9L315.4,500.4L306.9,504.1L298.4,500.4L298.4,492.9L306.9,489.1ZM315.4,515.4L315.4,522.9L306.9,526.6L298.4,522.9L298.4,515.4L306.9,511.6ZM332.3,515.4L332.3,522.9L323.8,526.6L315.4,522.9L315.4,515.4L323.8,511.6ZM247.6,537.9L247.6,545.4L239.2,549.1L230.7,545.4L230.7,537.9L239.2,534.1ZM256.1,549.1L256.1,556.6L247.6,560.4L239.2,556.6L239.2,549.1L247.6,545.4ZM290.0,549.1L290.0,556.6L281.5,560.4L273.0,556.6L273.0,549.1L281.5,545.4ZM264.6,560.4L264.6,567.9L256.1,571.6L247.6,567.9L247.6,560.4L256.1,556.6ZM281.5,560.4L281.5,567.9L273.0,571.6L264.6,567.9L264.6,560.4L273.0,556.6ZM222.2,571.6L222.2,579.1L213.8,582.9L205.3,579.1L205.3,571.6L213.8,567.9ZM290.0,571.6L290.0,579.1L281.5,582.9L273.0,579.1L273.0,571.6L281.5,567.9ZM213.8,582.9L213.8,590.4L205.3,594.1L196.8,590.4L196.8,582.9L205.3,579.1ZM222.2,594.1L222.2,601.6L213.8,605.4L205.3,601.6L205.3,594.1L213.8,590.4ZM239.2,594.1L239.2,601.6L230.7,605.4L222.2,601.6L222.2,594.1L230.7,590.4ZM281.5,605.4L281.5,612.9L273.0,616.6L264.6,612.9L264.6,605.4L273.0,601.6ZM332.3,605.4L332.3,612.9L323.8,616.6L315.4,612.9L315.4,605.4L323.8,601.6ZM239.2,616.6L239.2,624.1L230.7,627.9L222.2,624.1L222.2,616.6L230.7,612.9ZM256.1,616.6L256.1,624.1L247.6,627.9L239.2,624.1L239.2,616.6L247.6,612.9ZM323.8,616.6L323.8,624.1L315.4,627.9L306.9,624.1L306.9,616.6L315.4,612.9ZM400.0,447.9L400.0,455.4L391.6,459.1L383.1,455.4L383.1,447.9L391.6,444.1ZM459.3,459.1L459.3,466.6L450.8,470.4L442.4,466.6L442.4,459.1L450.8,455.4ZM493.2,481.6L493.2,489.1L484.7,492.9L476.2,489.1L476.2,481.6L484.7,477.9ZM366.2,492.9L366.2,500.4L357.7,504.1L349.2,500.4L349.2,492.9L357.7,489.1ZM433.9,492.9L433.9,500.4L425.4,504.1L417.0,500.4L417.0,492.9L425.4,489.1ZM357.7,504.1L357.7,511.6L349.2,515.4L340.8,511.6L340.8,504.1L349.2,500.4ZM374.6,504.1L374.6,511.6L366.2,515.4L357.7,511.6L357.7,504.1L366.2,500.4ZM476.2,504.1L476.2,511.6L467.8,515.4L459.3,511.6L459.3,504.1L467.8,500.4ZM510.1,504.1L510.1,511.6L501.6,515.4L493.2,511.6L493.2,504.1L501.6,500.4ZM527.0,504.1L527.0,511.6L518.6,515.4L510.1,511.6L510.1,504.1L518.6,500.4ZM544.0,504.1L544.0,511.6L535.5,515.4L527.0,511.6L527.0,504.1L535.5,500.4ZM366.2,515.4L366.2,522.9L357.7,526.6L349.2,522.9L349.2,515.4L357.7,511.6ZM484.7,515.4L484.7,522.9L476.2,526.6L467.8,522.9L467.8,515.4L476.2,511.6ZM501.6,515.4L501.6,522.9L493.2,526.6L484.7,522.9L484.7,515.4L493.2,511.6ZM518.6,515.4L518.6,522.9L510.1,526.6L501.6,522.9L501.6,515.4L510.1,511.6ZM535.5,515.4L535.5,522.9L527.0,526.6L518.6,522.9L518.6,515.4L527.0,511.6ZM374.6,526.6L374.6,534.1L366.2,537.9L357.7,534.1L357.7,526.6L366.2,522.9ZM493.2,526.6L493.2,534.1L484.7,537.9L476.2,534.1L476.2,526.6L484.7,522.9ZM527.0,526.6L527.0,534.1L518.6,537.9L510.1,534.1L510.1,526.6L518.6,522.9ZM544.0,526.6L544.0,534.1L535.5,537.9L527.0,534.1L527.0,526.6L535.5,522.9ZM510.1,549.1L510.1,556.6L501.6,560.4L493.2,556.6L493.2,549.1L501.6,545.4ZM527.0,549.1L527.0,556.6L518.6,560.4L510.1,556.6L510.1,549.1L518.6,545.4ZM535.5,560.4L535.5,567.9L527.0,571.6L518.6,567.9L518.6,560.4L527.0,556.6ZM408.5,571.6L408.5,579.1L400.0,582.9L391.6,579.1L391.6,571.6L400.0,567.9ZM442.4,571.6L442.4,579.1L433.9,582.9L425.4,579.1L425.4,571.6L433.9,567.9ZM493.2,571.6L493.2,579.1L484.7,582.9L476.2,579.1L476.2,571.6L484.7,567.9ZM510.1,571.6L510.1,579.1L501.6,582.9L493.2,579.1L493.2,571.6L501.6,567.9ZM484.7,582.9L484.7,590.4L476.2,594.1L467.8,590.4L467.8,582.9L476.2,579.1ZM501.6,582.9L501.6,590.4L493.2,594.1L484.7,590.4L484.7,582.9L493.2,579.1ZM535.5,582.9L535.5,590.4L527.0,594.1L518.6,590.4L518.6,582.9L527.0,579.1ZM408.5,594.1L408.5,601.6L400.0,605.4L391.6,601.6L391.6,594.1L400.0,590.4ZM425.4,594.1L425.4,601.6L417.0,605.4L408.5,601.6L408.5,594.1L417.0,590.4ZM442.4,594.1L442.4,601.6L433.9,605.4L425.4,601.6L425.4,594.1L433.9,590.4ZM459.3,594.1L459.3,601.6L450.8,605.4L442.4,601.6L442.4,594.1L450.8,590.4ZM417.0,605.4L417.0,612.9L408.5,616.6L400.0,612.9L400.0,605.4L408.5,601.6ZM433.9,605.4L433.9,612.9L425.4,616.6L417.0,612.9L417.0,605.4L425.4,601.6ZM357.7,616.6L357.7,624.1L349.2,627.9L340.8,624.1L340.8,616.6L349.2,612.9ZM391.6,616.6L391.6,624.1L383.1,627.9L374.6,624.1L374.6,616.6L383.1,612.9ZM594.8,526.6L594.8,534.1L586.3,537.9L577.9,534.1L577.9,526.6L586.3,522.9Z" fill="#cbdff1" stroke="#cbdff1"/><path d="M323.8,526.6L323.8,534.1L315.4,537.9L306.9,534.1L306.9,526.6L315.4,522.9ZM340.8,526.6L340.8,534.1L332.3,537.9L323.8,534.1L323.8,526.6L332.3,522.9ZM315.4,537.9L315.4,545.4L306.9,549.1L298.4,545.4L298.4,537.9L306.9,534.1ZM332.3,537.9L332.3,545.4L323.8,549.1L315.4,545.4L315.4,537.9L323.8,534.1ZM247.6,560.4L247.6,567.9L239.2,571.6L230.7,567.9L230.7,560.4L239.2,556.6ZM298.4,560.4L298.4,567.9L290.0,571.6L281.5,567.9L281.5,560.4L290.0,556.6ZM239.2,571.6L239.2,579.1L230.7,582.9L222.2,579.1L222.2,571.6L230.7,567.9ZM306.9,571.6L306.9,579.1L298.4,582.9L290.0,579.1L290.0,571.6L298.4,567.9ZM340.8,571.6L340.8,579.1L332.3,582.9L323.8,579.1L323.8,571.6L332.3,567.9ZM230.7,582.9L230.7,590.4L222.2,594.1L213.8,590.4L213.8,582.9L222.2,579.1ZM273.0,594.1L273.0,601.6L264.6,605.4L256.1,601.6L256.1,594.1L264.6,590.4ZM290.0,594.1L290.0,601.6L281.5,605.4L273.0,601.6L273.0,594.1L281.5,590.4ZM383.1,470.4L383.1,477.9L374.6,481.6L366.2,477.9L366.2,470.4L374.6,466.6ZM417.0,470.4L417.0,477.9L408.5,481.6L400.0,477.9L400.0,470.4L408.5,466.6ZM501.6,470.4L501.6,477.9L493.2,481.6L484.7,477.9L484.7,470.4L493.2,466.6ZM459.3,481.6L459.3,489.1L450.8,492.9L442.4,489.1L442.4,481.6L450.8,477.9ZM383.1,492.9L383.1,500.4L374.6,504.1L366.2,500.4L366.2,492.9L374.6,489.1ZM417.0,492.9L417.0,500.4L408.5,504.1L400.0,500.4L400.0,492.9L408.5,489.1ZM391.6,504.1L391.6,511.6L383.1,515.4L374.6,511.6L374.6,504.1L383.1,500.4ZM408.5,504.1L408.5,511.6L400.0,515.4L391.6,511.6L391.6,504.1L400.0,500.4ZM425.4,504.1L425.4,511.6L417.0,515.4L408.5,511.6L408.5,504.1L417.0,500.4ZM493.2,504.1L493.2,511.6L484.7,515.4L476.2,511.6L476.2,504.1L484.7,500.4ZM400.0,515.4L400.0,522.9L391.6,526.6L383.1,522.9L383.1,515.4L391.6,511.6ZM450.8,515.4L450.8,522.9L442.4,526.6L433.9,522.9L433.9,515.4L442.4,511.6ZM467.8,515.4L467.8,522.9L459.3,526.6L450.8,522.9L450.8,515.4L459.3,511.6ZM357.7,526.6L357.7,534.1L349.2,537.9L340.8,534.1L340.8,526.6L349.2,522.9ZM408.5,526.6L408.5,534.1L400.0,537.9L391.6,534.1L391.6,526.6L400.0,522.9ZM442.4,526.6L442.4,534.1L433.9,537.9L425.4,534.1L425.4,526.6L433.9,522.9ZM459.3,526.6L459.3,534.1L450.8,537.9L442.4,534.1L442.4,526.6L450.8,522.9ZM510.1,526.6L510.1,534.1L501.6,537.9L493.2,534.1L493.2,526.6L501.6,522.9ZM450.8,537.9L450.8,545.4L442.4,549.1L433.9,545.4L433.9,537.9L442.4,534.1ZM484.7,537.9L484.7,545.4L476.2,549.1L467.8,545.4L467.8,537.9L476.2,534.1ZM501.6,537.9L501.6,545.4L493.2,549.1L484.7,545.4L484.7,537.9L493.2,534.1ZM518.6,537.9L518.6,545.4L510.1,549.1L501.6,545.4L501.6,537.9L510.1,534.1ZM535.5,537.9L535.5,545.4L527.0,549.1L518.6,545.4L518.6,537.9L527.0,534.1ZM459.3,549.1L459.3,556.6L450.8,560.4L442.4,556.6L442.4,549.1L450.8,545.4ZM476.2,549.1L476.2,556.6L467.8,560.4L459.3,556.6L459.3,549.1L467.8,545.4ZM493.2,549.1L493.2,556.6L484.7,560.4L476.2,556.6L476.2,549.1L484.7,545.4ZM450.8,560.4L450.8,567.9L442.4,571.6L433.9,567.9L433.9,560.4L442.4,556.6ZM467.8,560.4L467.8,567.9L459.3,571.6L450.8,567.9L450.8,560.4L459.3,556.6ZM501.6,560.4L501.6,567.9L493.2,571.6L484.7,567.9L484.7,560.4L493.2,556.6ZM391.6,571.6L391.6,579.1L383.1,582.9L374.6,579.1L374.6,571.6L383.1,567.9ZM425.4,571.6L425.4,579.1L417.0,582.9L408.5,579.1L408.5,571.6L417.0,567.9ZM459.3,571.6L459.3,579.1L450.8,582.9L442.4,579.1L442.4,571.6L450.8,567.9ZM476.2,571.6L476.2,579.1L467.8,582.9L459.3,579.1L459.3,571.6L467.8,567.9ZM417.0,582.9L417.0,590.4L408.5,594.1L400.0,590.4L400.0,582.9L408.5,579.1ZM450.8,582.9L450.8,590.4L442.4,594.1L433.9,590.4L433.9,582.9L442.4,579.1ZM467.8,582.9L467.8,590.4L459.3,594.1L450.8,590.4L450.8,582.9L459.3,579.1ZM391.6,594.1L391.6,601.6L383.1,605.4L374.6,601.6L374.6,594.1L383.1,590.4ZM349.2,605.4L349.2,612.9L340.8,616.6L332.3,612.9L332.3,605.4L340.8,601.6ZM366.2,605.4L366.2,612.9L357.7,616.6L349.2,612.9L349.2,605.4L357.7,601.6ZM552.5,492.9L552.5,500.4L544.0,504.1L535.5,500.4L535.5,492.9L544.0,489.1Z" fill="#add0e6" stroke="#add0e6"/><path d="M315.4,560.4L315.4,567.9L306.9,571.6L298.4,567.9L298.4,560.4L306.9,556.6ZM332.3,560.4L332.3,567.9L323.8,571.6L315.4,567.9L315.4,560.4L323.8,556.6ZM332.3,582.9L332.3,590.4L323.8,594.1L315.4,590.4L315.4,582.9L323.8,579.1ZM340.8,594.1L340.8,601.6L332.3,605.4L323.8,601.6L323.8,594.1L332.3,590.4ZM450.8,492.9L450.8,500.4L442.4,504.1L433.9,500.4L433.9,492.9L442.4,489.1ZM442.4,504.1L442.4,511.6L433.9,515.4L425.4,511.6L425.4,504.1L433.9,500.4ZM459.3,504.1L459.3,511.6L450.8,515.4L442.4,511.6L442.4,504.1L450.8,500.4ZM383.1,515.4L383.1,522.9L374.6,526.6L366.2,522.9L366.2,515.4L374.6,511.6ZM417.0,515.4L417.0,522.9L408.5,526.6L400.0,522.9L400.0,515.4L408.5,511.6ZM433.9,515.4L433.9,522.9L425.4,526.6L417.0,522.9L417.0,515.4L425.4,511.6ZM391.6,526.6L391.6,534.1L383.1,537.9L374.6,534.1L374.6,526.6L383.1,522.9ZM366.2,537.9L366.2,545.4L357.7,549.1L349.2,545.4L349.2,537.9L357.7,534.1ZM417.0,537.9L417.0,545.4L408.5,549.1L400.0,545.4L400.0,537.9L408.5,534.1ZM467.8,537.9L467.8,545.4L459.3,549.1L450.8,545.4L450.8,537.9L459.3,534.1ZM357.7,549.1L357.7,556.6L349.2,560.4L340.8,556.6L340.8,549.1L349.2,545.4ZM391.6,549.1L391.6,556.6L383.1,560.4L374.6,556.6L374.6,549.1L383.1,545.4ZM425.4,549.1L425.4,556.6L417.0,560.4L408.5,556.6L408.5,549.1L417.0,545.4ZM484.7,560.4L484.7,567.9L476.2,571.6L467.8,567.9L467.8,560.4L476.2,556.6Z" fill="#8ec1de" stroke="#8ec1de"/><path d="M340.8,549.1L340.8,556.6L332.3,560.4L323.8,556.6L323.8,549.1L332.3,545.4ZM256.1,571.6L256.1,579.1L247.6,582.9L239.2,579.1L239.2,571.6L247.6,567.9ZM323.8,571.6L323.8,579.1L315.4,582.9L306.9,579.1L306.9,571.6L315.4,567.9ZM281.5,582.9L281.5,590.4L273.0,594.1L264.6,590.4L264.6,582.9L273.0,579.1ZM298.4,582.9L298.4,590.4L290.0,594.1L281.5,590.4L281.5,582.9L290.0,579.1ZM256.1,594.1L256.1,601.6L247.6,605.4L239.2,601.6L239.2,594.1L247.6,590.4ZM306.9,594.1L306.9,601.6L298.4,605.4L290.0,601.6L290.0,594.1L298.4,590.4ZM476.2,526.6L476.2,534.1L467.8,537.9L459.3,534.1L459.3,526.6L467.8,522.9ZM383.1,537.9L383.1,545.4L374.6,549.1L366.2,545.4L366.2,537.9L374.6,534.1ZM400.0,537.9L400.0,545.4L391.6,549.1L383.1,545.4L383.1,537.9L391.6,534.1ZM433.9,537.9L433.9,545.4L425.4,549.1L417.0,545.4L417.0,537.9L425.4,534.1ZM408.5,549.1L408.5,556.6L400.0,560.4L391.6,556.6L391.6,549.1L400.0,545.4ZM442.4,549.1L442.4,556.6L433.9,560.4L425.4,556.6L425.4,549.1L433.9,545.4ZM366.2,560.4L366.2,567.9L357.7,571.6L349.2,567.9L349.2,560.4L357.7,556.6ZM400.0,560.4L400.0,567.9L391.6,571.6L383.1,567.9L383.1,560.4L391.6,556.6ZM433.9,560.4L433.9,567.9L425.4,571.6L417.0,567.9L417.0,560.4L425.4,556.6ZM400.0,582.9L400.0,590.4L391.6,594.1L383.1,590.4L383.1,582.9L391.6,579.1ZM433.9,582.9L433.9,590.4L425.4,594.1L417.0,590.4L417.0,582.9L425.4,579.1Z" fill="#6baed6" stroke="#6baed6"/><path d="M323.8,549.1L323.8,556.6L315.4,560.4L306.9,556.6L306.9,549.1L315.4,545.4ZM247.6,582.9L247.6,590.4L239.2,594.1L230.7,590.4L230.7,582.9L239.2,579.1ZM247.6,605.4L247.6,612.9L239.2,616.6L230.7,612.9L230.7,605.4L239.2,601.6ZM349.2,537.9L349.2,545.4L340.8,549.1L332.3,545.4L332.3,537.9L340.8,534.1ZM374.6,549.1L374.6,556.6L366.2,560.4L357.7,556.6L357.7,549.1L366.2,545.4ZM349.2,560.4L349.2,567.9L340.8,571.6L332.3,567.9L332.3,560.4L340.8,556.6ZM417.0,560.4L417.0,567.9L408.5,571.6L400.0,567.9L400.0,560.4L408.5,556.6ZM383.1,582.9L383.1,590.4L374.6,594.1L366.2,590.4L366.2,582.9L374.6,579.1ZM383.1,605.4L383.1,612.9L374.6,616.6L366.2,612.9L366.2,605.4L374.6,601.6Z" fill="#4a98c9" stroke="#4a98c9"/><path d="M315.4,582.9L315.4,590.4L306.9,594.1L298.4,590.4L298.4,582.9L306.9,579.1ZM323.8,594.1L323.8,601.6L315.4,605.4L306.9,601.6L306.9,594.1L315.4,590.4ZM315.4,605.4L315.4,612.9L306.9,616.6L298.4,612.9L298.4,605.4L306.9,601.6ZM383.1,560.4L383.1,567.9L374.6,571.6L366.2,567.9L366.2,560.4L374.6,556.6ZM357.7,571.6L357.7,579.1L349.2,582.9L340.8,579.1L340.8,571.6L349.2,567.9ZM374.6,571.6L374.6,579.1L366.2,582.9L357.7,579.1L357.7,571.6L366.2,567.9ZM349.2,582.9L349.2,590.4L340.8,594.1L332.3,590.4L332.3,582.9L340.8,579.1ZM374.6,594.1L374.6,601.6L366.2,605.4L357.7,601.6L357.7,594.1L366.2,590.4Z" fill="#2a7aba" stroke="#2a7aba"/><path d="M357.7,594.1L357.7,601.6L349.2,605.4L340.8,601.6L340.8,594.1L349.2,590.4Z" fill="#0e59a2" stroke="#0e59a2"/><path d="M366.2,582.9L366.2,590.4L357.7,594.1L349.2,590.4L349.2,582.9L357.7,579.1Z" fill="#08306b" stroke="#08306b"/></g><path d="M104.5,720.50H1035M104.5,611.50H1035M104.5,501.50H1035M104.5,392.50H1035M104.5,283.50H1035M104.5,173.50H1035M104.5,64.50H1035M162.50,48V742M316.50,48V742M471.50,48V742M626.50,48V742M781.50,48V742M936.50,48V742" stroke="#dadada" stroke-width="1.0" fill="none"/><path d="M104.5,611.00H1035" stroke="#767676" stroke-width="1.85" stroke-dasharray="7.75,3.3" fill="none"/><path d="M210.3,553.7L693,495.7" stroke="#c0392b" stroke-width="4.2" fill="none"/><path d="M104,742H1035" stroke="#cccccc" stroke-width="1.6" fill="none"/><path d="M98,720.00H105M98,611.00H105M98,501.00H105M98,392.00H105M98,283.00H105M98,173.00H105M98,64.00H105M162.00,742.6V749M316.00,742.6V749M471.00,742.6V749M626.00,742.6V749M781.00,742.6V749M936.00,742.6V749" stroke="#111" stroke-width="1.8" fill="none"/><text x="283.45" y="37.00" font-size="29.17" text-anchor="start" textLength="571.66" lengthAdjust="spacingAndGlyphs" style="white-space:pre" font-weight="bold" fill="#000">Does Going Out Too Fast Cost You?</text><text x="89.80" y="727.72" font-size="22.00" text-anchor="end" textLength="43.95" lengthAdjust="spacingAndGlyphs" style="white-space:pre" fill="#000">−20</text><text x="89.80" y="618.40" font-size="22.00" text-anchor="end" textLength="13.25" lengthAdjust="spacingAndGlyphs" style="white-space:pre" fill="#000">0</text><text x="89.80" y="509.08" font-size="22.00" text-anchor="end" textLength="26.50" lengthAdjust="spacingAndGlyphs" style="white-space:pre" fill="#000">20</text><text x="89.80" y="399.76" font-size="22.00" text-anchor="end" textLength="26.50" lengthAdjust="spacingAndGlyphs" style="white-space:pre" fill="#000">40</text><text x="89.80" y="290.44" font-size="22.00" text-anchor="end" textLength="26.50" lengthAdjust="spacingAndGlyphs" style="white-space:pre" fill="#000">60</text><text x="89.80" y="181.12" font-size="22.00" text-anchor="end" textLength="26.50" lengthAdjust="spacingAndGlyphs" style="white-space:pre" fill="#000">80</text><text x="89.80" y="71.80" font-size="22.00" text-anchor="end" textLength="39.75" lengthAdjust="spacingAndGlyphs" style="white-space:pre" fill="#000">100</text><text x="162.50" y="772.50" font-size="22.00" text-anchor="middle" textLength="46.77" lengthAdjust="spacingAndGlyphs" style="white-space:pre" fill="#000">3:20</text><text x="316.50" y="772.50" font-size="22.00" text-anchor="middle" textLength="46.77" lengthAdjust="spacingAndGlyphs" style="white-space:pre" fill="#000">5:00</text><text x="471.50" y="772.50" font-size="22.00" text-anchor="middle" textLength="46.77" lengthAdjust="spacingAndGlyphs" style="white-space:pre" fill="#000">6:40</text><text x="626.50" y="772.50" font-size="22.00" text-anchor="middle" textLength="46.77" lengthAdjust="spacingAndGlyphs" style="white-space:pre" fill="#000">8:20</text><text x="781.50" y="772.50" font-size="22.00" text-anchor="middle" textLength="60.02" lengthAdjust="spacingAndGlyphs" style="white-space:pre" fill="#000">10:00</text><text x="936.50" y="772.50" font-size="22.00" text-anchor="middle" textLength="60.02" lengthAdjust="spacingAndGlyphs" style="white-space:pre" fill="#000">11:40</text><text x="569.00" y="802.80" font-size="24.20" text-anchor="middle" textLength="275.48" lengthAdjust="spacingAndGlyphs" style="white-space:pre" fill="#000">First-half pace  (per km)</text><text x="33.10" y="396.00" font-size="24.20" text-anchor="middle" textLength="310.04" lengthAdjust="spacingAndGlyphs" style="white-space:pre" transform="rotate(-90 33.10 396.00)" fill="#000">Second-half slowdown  (%)</text><defs><linearGradient id="cb" x1="0" y1="1" x2="0" y2="0"><stop offset="0" stop-color="#f7fbff" stop-opacity="0.85"/><stop offset="0.125" stop-color="#deebf7" stop-opacity="0.85"/><stop offset="0.25" stop-color="#c6dbef" stop-opacity="0.85"/><stop offset="0.375" stop-color="#9ecae1" stop-opacity="0.85"/><stop offset="0.5" stop-color="#6baed6" stop-opacity="0.85"/><stop offset="0.625" stop-color="#4292c6" stop-opacity="0.85"/><stop offset="0.75" stop-color="#2171b5" stop-opacity="0.85"/><stop offset="0.875" stop-color="#08519c" stop-opacity="0.85"/><stop offset="1" stop-color="#08306b" stop-opacity="0.85"/></linearGradient></defs><rect x="1093" y="48.6" width="35" height="692.9" fill="url(#cb)" stroke="#cccccc" stroke-width="1.3"/><text x="1141.75" y="660.00" font-size="22.00" text-anchor="start" textLength="26.50" lengthAdjust="spacingAndGlyphs" style="white-space:pre" fill="#000">10</text><text x="1141.75" y="561.05" font-size="22.00" text-anchor="start" textLength="26.50" lengthAdjust="spacingAndGlyphs" style="white-space:pre" fill="#000">20</text><text x="1141.75" y="462.10" font-size="22.00" text-anchor="start" textLength="26.50" lengthAdjust="spacingAndGlyphs" style="white-space:pre" fill="#000">30</text><text x="1141.75" y="363.15" font-size="22.00" text-anchor="start" textLength="26.50" lengthAdjust="spacingAndGlyphs" style="white-space:pre" fill="#000">40</text><text x="1141.75" y="264.20" font-size="22.00" text-anchor="start" textLength="26.50" lengthAdjust="spacingAndGlyphs" style="white-space:pre" fill="#000">50</text><text x="1141.75" y="165.25" font-size="22.00" text-anchor="start" textLength="26.50" lengthAdjust="spacingAndGlyphs" style="white-space:pre" fill="#000">60</text><text x="1141.75" y="66.30" font-size="22.00" text-anchor="start" textLength="26.50" lengthAdjust="spacingAndGlyphs" style="white-space:pre" fill="#000">70</text><path d="M1128.6,652.60H1135M1128.6,553.65H1135M1128.6,454.70H1135M1128.6,355.75H1135M1128.6,256.80H1135M1128.6,157.85H1135M1128.6,58.90H1135" stroke="#111" stroke-width="1.8" fill="none"/><text x="1193.90" y="396.80" font-size="24.20" text-anchor="middle" textLength="153.93" lengthAdjust="spacingAndGlyphs" style="white-space:pre" transform="rotate(-90 1193.90 396.80)" fill="#000">Runner count</text><rect x="125.3" y="62.8" width="196.7" height="55.0" rx="6" ry="6" fill="#f2f2f2" stroke="#000" stroke-width="1.9"/><text x="132.25" y="84.90" font-size="19.80" text-anchor="start" textLength="117.05" lengthAdjust="spacingAndGlyphs" style="white-space:pre" fill="#000">n = 389,122</text><text x="132.25" y="107.00" font-size="19.80" text-anchor="start" textLength="182.23" lengthAdjust="spacingAndGlyphs" style="white-space:pre" fill="#000">r = 0.21  p &lt; 0.001</text><path d="M718.2,80.4H768.8" stroke="#c0392b" stroke-width="4.3" fill="none"/><path d="M720,113.9H765.8" stroke="#767676" stroke-width="1.85" stroke-dasharray="7.75,3.3" fill="none"/><text x="782.55" y="88.00" font-size="24.20" text-anchor="start" textLength="230.18" lengthAdjust="spacingAndGlyphs" style="white-space:pre" fill="#000">Regression (r=0.21)</text><text x="782.55" y="122.70" font-size="24.20" text-anchor="start" textLength="112.16" lengthAdjust="spacingAndGlyphs" style="white-space:pre" fill="#000">Even split</text></svg></body></html>
